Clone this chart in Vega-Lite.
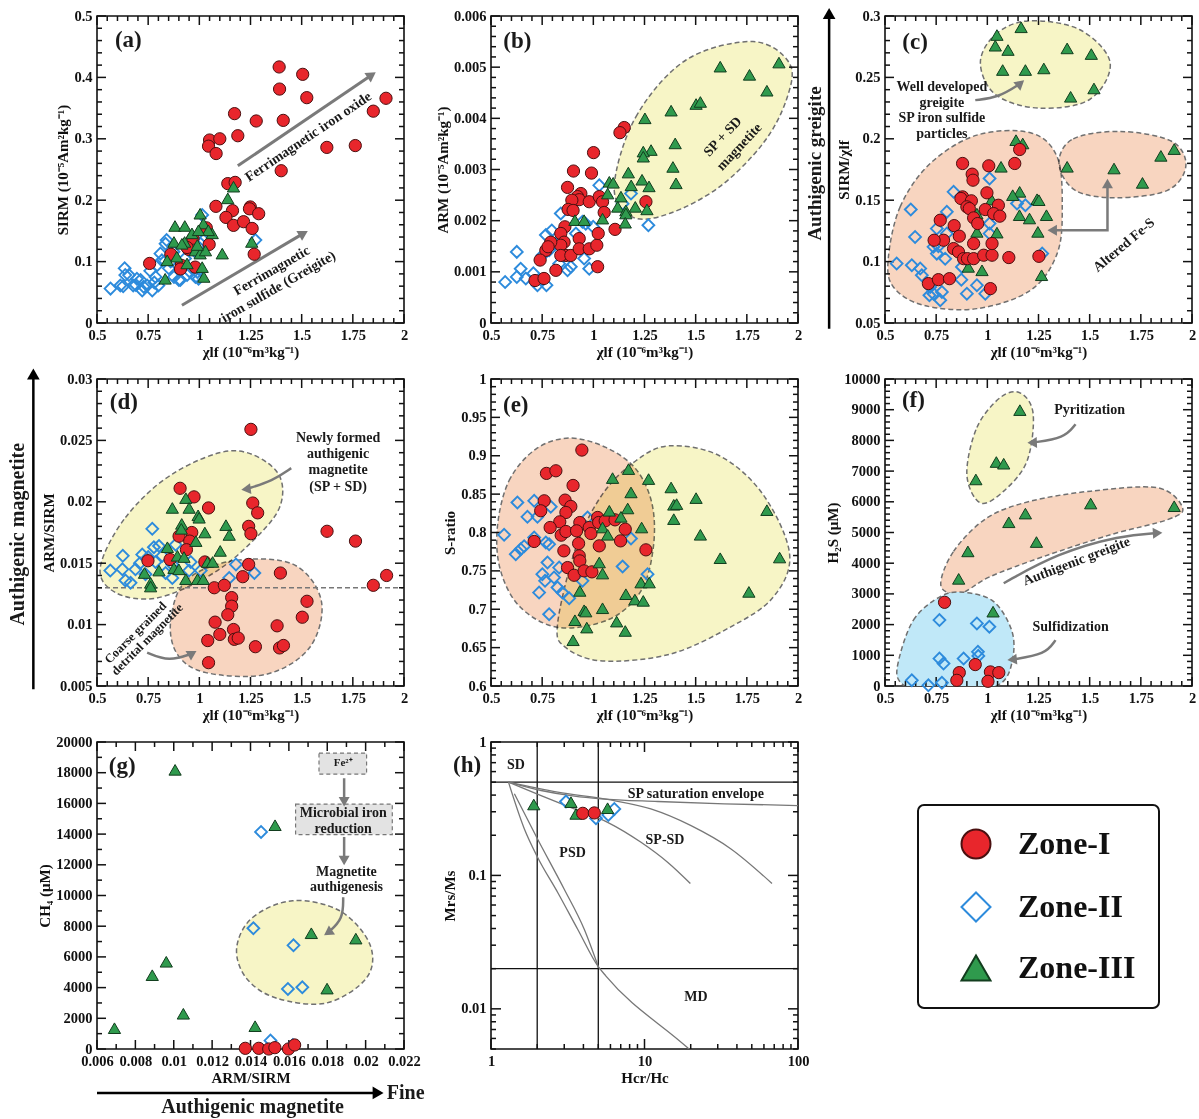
{
"$schema":"https://vega.github.io/schema/vega-lite/v6.json",
"autosize":{"type":"none"},
"padding":{"left":97,"top":16,"right":1102,"bottom":1103},
"background":"white",
"datasets":{
"pts":[
{"p":"a","z":"Zone-I","x":1.39,"y":0.417},{"p":"a","z":"Zone-I","x":1.505,"y":0.405},{"p":"a","z":"Zone-I","x":1.392,"y":0.381},{"p":"a","z":"Zone-I","x":1.525,"y":0.367},{"p":"a","z":"Zone-I","x":1.912,"y":0.366},{"p":"a","z":"Zone-I","x":1.85,"y":0.345},{"p":"a","z":"Zone-I","x":1.172,"y":0.341},{"p":"a","z":"Zone-I","x":1.278,"y":0.329},{"p":"a","z":"Zone-I","x":1.41,"y":0.33},{"p":"a","z":"Zone-I","x":1.05,"y":0.298},{"p":"a","z":"Zone-I","x":1.1,"y":0.3},{"p":"a","z":"Zone-I","x":1.188,"y":0.305},{"p":"a","z":"Zone-I","x":1.045,"y":0.288},{"p":"a","z":"Zone-I","x":1.082,"y":0.276},{"p":"a","z":"Zone-I","x":1.623,"y":0.286},{"p":"a","z":"Zone-I","x":1.762,"y":0.289},{"p":"a","z":"Zone-I","x":1.4,"y":0.248},{"p":"a","z":"Zone-I","x":1.139,"y":0.227},{"p":"a","z":"Zone-I","x":1.175,"y":0.229},{"p":"a","z":"Zone-I","x":1.081,"y":0.19},{"p":"a","z":"Zone-I","x":1.162,"y":0.183},{"p":"a","z":"Zone-I","x":1.13,"y":0.172},{"p":"a","z":"Zone-I","x":1.167,"y":0.159},{"p":"a","z":"Zone-I","x":1.216,"y":0.165},{"p":"a","z":"Zone-I","x":1.249,"y":0.189},{"p":"a","z":"Zone-I","x":1.245,"y":0.186},{"p":"a","z":"Zone-I","x":1.29,"y":0.178},{"p":"a","z":"Zone-I","x":1.258,"y":0.154},{"p":"a","z":"Zone-I","x":1.268,"y":0.112},{"p":"a","z":"Zone-I","x":1.034,"y":0.155},{"p":"a","z":"Zone-I","x":1.048,"y":0.128},{"p":"a","z":"Zone-I","x":0.969,"y":0.138},{"p":"a","z":"Zone-I","x":0.947,"y":0.12},{"p":"a","z":"Zone-I","x":0.94,"y":0.123},{"p":"a","z":"Zone-I","x":0.861,"y":0.112},{"p":"a","z":"Zone-I","x":0.912,"y":0.094},{"p":"a","z":"Zone-I","x":0.908,"y":0.088},{"p":"a","z":"Zone-I","x":0.98,"y":0.091},{"p":"a","z":"Zone-I","x":0.757,"y":0.097},
{"p":"a","z":"Zone-II","x":0.566,"y":0.056},{"p":"a","z":"Zone-II","x":0.628,"y":0.06},{"p":"a","z":"Zone-II","x":0.635,"y":0.089},{"p":"a","z":"Zone-II","x":0.656,"y":0.078},{"p":"a","z":"Zone-II","x":0.677,"y":0.061},{"p":"a","z":"Zone-II","x":0.713,"y":0.07},{"p":"a","z":"Zone-II","x":0.721,"y":0.053},{"p":"a","z":"Zone-II","x":0.745,"y":0.061},{"p":"a","z":"Zone-II","x":0.77,"y":0.053},{"p":"a","z":"Zone-II","x":0.786,"y":0.075},{"p":"a","z":"Zone-II","x":0.8,"y":0.061},{"p":"a","z":"Zone-II","x":0.81,"y":0.113},{"p":"a","z":"Zone-II","x":0.835,"y":0.129},{"p":"a","z":"Zone-II","x":0.794,"y":0.094},{"p":"a","z":"Zone-II","x":0.851,"y":0.089},{"p":"a","z":"Zone-II","x":0.876,"y":0.075},{"p":"a","z":"Zone-II","x":0.9,"y":0.07},{"p":"a","z":"Zone-II","x":0.94,"y":0.078},{"p":"a","z":"Zone-II","x":0.981,"y":0.075},{"p":"a","z":"Zone-II","x":0.99,"y":0.083},{"p":"a","z":"Zone-II","x":1.006,"y":0.129},{"p":"a","z":"Zone-II","x":1.014,"y":0.176},{"p":"a","z":"Zone-II","x":1.274,"y":0.135},{"p":"a","z":"Zone-II","x":0.638,"y":0.078},{"p":"a","z":"Zone-II","x":0.614,"y":0.061},{"p":"a","z":"Zone-II","x":0.695,"y":0.072},{"p":"a","z":"Zone-II","x":0.728,"y":0.059},{"p":"a","z":"Zone-II","x":0.84,"y":0.135},{"p":"a","z":"Zone-II","x":0.817,"y":0.102},{"p":"a","z":"Zone-II","x":0.874,"y":0.116},{"p":"a","z":"Zone-II","x":0.907,"y":0.07},{"p":"a","z":"Zone-II","x":0.996,"y":0.072},{"p":"a","z":"Zone-II","x":0.93,"y":0.105},{"p":"a","z":"Zone-II","x":0.955,"y":0.083},{"p":"a","z":"Zone-II","x":0.98,"y":0.116},{"p":"a","z":"Zone-II","x":1.02,"y":0.135},{"p":"a","z":"Zone-II","x":0.76,"y":0.085},{"p":"a","z":"Zone-II","x":0.78,"y":0.066},{"p":"a","z":"Zone-II","x":0.69,"y":0.062},{"p":"a","z":"Zone-II","x":0.86,"y":0.1},
{"p":"a","z":"Zone-III","x":1.167,"y":0.222},{"p":"a","z":"Zone-III","x":1.139,"y":0.203},{"p":"a","z":"Zone-III","x":0.881,"y":0.158},{"p":"a","z":"Zone-III","x":0.929,"y":0.158},{"p":"a","z":"Zone-III","x":0.876,"y":0.132},{"p":"a","z":"Zone-III","x":0.928,"y":0.132},{"p":"a","z":"Zone-III","x":1.063,"y":0.146},{"p":"a","z":"Zone-III","x":1.112,"y":0.113},{"p":"a","z":"Zone-III","x":1.022,"y":0.075},{"p":"a","z":"Zone-III","x":1.004,"y":0.178},{"p":"a","z":"Zone-III","x":1.02,"y":0.162},{"p":"a","z":"Zone-III","x":0.915,"y":0.129},{"p":"a","z":"Zone-III","x":0.964,"y":0.146},{"p":"a","z":"Zone-III","x":1.044,"y":0.151},{"p":"a","z":"Zone-III","x":0.98,"y":0.118},{"p":"a","z":"Zone-III","x":1.004,"y":0.113},{"p":"a","z":"Zone-III","x":0.833,"y":0.072},{"p":"a","z":"Zone-III","x":0.89,"y":0.108},{"p":"a","z":"Zone-III","x":0.94,"y":0.097},{"p":"a","z":"Zone-III","x":1.03,"y":0.118},{"p":"a","z":"Zone-III","x":1.256,"y":0.132},{"p":"a","z":"Zone-III","x":0.996,"y":0.151},{"p":"a","z":"Zone-III","x":0.843,"y":0.102},{"p":"a","z":"Zone-III","x":1.014,"y":0.091},{"p":"a","z":"Zone-III","x":0.99,"y":0.127},
{"p":"b","z":"Zone-I","x":1.151,"y":0.00382},{"p":"b","z":"Zone-I","x":1.13,"y":0.00372},{"p":"b","z":"Zone-I","x":1.001,"y":0.00333},{"p":"b","z":"Zone-I","x":0.903,"y":0.00297},{"p":"b","z":"Zone-I","x":0.991,"y":0.00293},{"p":"b","z":"Zone-I","x":0.874,"y":0.00265},{"p":"b","z":"Zone-I","x":0.939,"y":0.00253},{"p":"b","z":"Zone-I","x":0.923,"y":0.00247},{"p":"b","z":"Zone-I","x":0.931,"y":0.00241},{"p":"b","z":"Zone-I","x":0.895,"y":0.0024},{"p":"b","z":"Zone-I","x":0.98,"y":0.00237},{"p":"b","z":"Zone-I","x":1.029,"y":0.00247},{"p":"b","z":"Zone-I","x":1.045,"y":0.00237},{"p":"b","z":"Zone-I","x":1.053,"y":0.00216},{"p":"b","z":"Zone-I","x":1.257,"y":0.00237},{"p":"b","z":"Zone-I","x":1.106,"y":0.00183},{"p":"b","z":"Zone-I","x":0.877,"y":0.00222},{"p":"b","z":"Zone-I","x":0.901,"y":0.0022},{"p":"b","z":"Zone-I","x":0.861,"y":0.00188},{"p":"b","z":"Zone-I","x":0.841,"y":0.00175},{"p":"b","z":"Zone-I","x":0.857,"y":0.00158},{"p":"b","z":"Zone-I","x":0.841,"y":0.00152},{"p":"b","z":"Zone-I","x":0.792,"y":0.00158},{"p":"b","z":"Zone-I","x":0.768,"y":0.00142},{"p":"b","z":"Zone-I","x":0.779,"y":0.00149},{"p":"b","z":"Zone-I","x":0.866,"y":0.00132},{"p":"b","z":"Zone-I","x":0.841,"y":0.00132},{"p":"b","z":"Zone-I","x":0.89,"y":0.00132},{"p":"b","z":"Zone-I","x":0.931,"y":0.00165},{"p":"b","z":"Zone-I","x":0.931,"y":0.00145},{"p":"b","z":"Zone-I","x":0.98,"y":0.00145},{"p":"b","z":"Zone-I","x":1.017,"y":0.00152},{"p":"b","z":"Zone-I","x":1.024,"y":0.00175},{"p":"b","z":"Zone-I","x":1.021,"y":0.0011},{"p":"b","z":"Zone-I","x":0.817,"y":0.00103},{"p":"b","z":"Zone-I","x":0.74,"y":0.00123},{"p":"b","z":"Zone-I","x":0.715,"y":0.00083},{"p":"b","z":"Zone-I","x":0.759,"y":0.00087},
{"p":"b","z":"Zone-II","x":0.569,"y":0.0008},{"p":"b","z":"Zone-II","x":0.626,"y":0.00139},{"p":"b","z":"Zone-II","x":0.626,"y":0.0009},{"p":"b","z":"Zone-II","x":0.645,"y":0.00106},{"p":"b","z":"Zone-II","x":0.67,"y":0.00087},{"p":"b","z":"Zone-II","x":0.707,"y":0.00097},{"p":"b","z":"Zone-II","x":0.727,"y":0.00074},{"p":"b","z":"Zone-II","x":0.771,"y":0.00074},{"p":"b","z":"Zone-II","x":0.751,"y":0.00132},{"p":"b","z":"Zone-II","x":0.768,"y":0.00172},{"p":"b","z":"Zone-II","x":0.797,"y":0.00181},{"p":"b","z":"Zone-II","x":0.841,"y":0.00214},{"p":"b","z":"Zone-II","x":0.817,"y":0.00155},{"p":"b","z":"Zone-II","x":0.874,"y":0.00103},{"p":"b","z":"Zone-II","x":0.89,"y":0.0011},{"p":"b","z":"Zone-II","x":0.833,"y":0.00116},{"p":"b","z":"Zone-II","x":0.955,"y":0.00126},{"p":"b","z":"Zone-II","x":0.98,"y":0.00106},{"p":"b","z":"Zone-II","x":0.947,"y":0.00198},{"p":"b","z":"Zone-II","x":0.963,"y":0.00194},{"p":"b","z":"Zone-II","x":0.999,"y":0.00188},{"p":"b","z":"Zone-II","x":1.029,"y":0.00269},{"p":"b","z":"Zone-II","x":1.143,"y":0.00233},{"p":"b","z":"Zone-II","x":1.184,"y":0.00253},{"p":"b","z":"Zone-II","x":1.269,"y":0.00191},{"p":"b","z":"Zone-II","x":0.784,"y":0.00142},{"p":"b","z":"Zone-II","x":0.915,"y":0.00175},
{"p":"b","z":"Zone-III","x":1.907,"y":0.00509},{"p":"b","z":"Zone-III","x":1.62,"y":0.00501},{"p":"b","z":"Zone-III","x":1.763,"y":0.00485},{"p":"b","z":"Zone-III","x":1.848,"y":0.00454},{"p":"b","z":"Zone-III","x":1.502,"y":0.00428},{"p":"b","z":"Zone-III","x":1.523,"y":0.00432},{"p":"b","z":"Zone-III","x":1.38,"y":0.00415},{"p":"b","z":"Zone-III","x":1.252,"y":0.004},{"p":"b","z":"Zone-III","x":1.4,"y":0.00351},{"p":"b","z":"Zone-III","x":1.389,"y":0.00305},{"p":"b","z":"Zone-III","x":1.404,"y":0.00273},{"p":"b","z":"Zone-III","x":1.282,"y":0.00338},{"p":"b","z":"Zone-III","x":1.244,"y":0.00335},{"p":"b","z":"Zone-III","x":1.244,"y":0.00325},{"p":"b","z":"Zone-III","x":1.171,"y":0.00294},{"p":"b","z":"Zone-III","x":1.078,"y":0.00276},{"p":"b","z":"Zone-III","x":1.097,"y":0.00274},{"p":"b","z":"Zone-III","x":1.185,"y":0.00269},{"p":"b","z":"Zone-III","x":1.238,"y":0.0028},{"p":"b","z":"Zone-III","x":1.272,"y":0.00267},{"p":"b","z":"Zone-III","x":1.135,"y":0.00247},{"p":"b","z":"Zone-III","x":1.205,"y":0.00227},{"p":"b","z":"Zone-III","x":1.262,"y":0.00222},{"p":"b","z":"Zone-III","x":1.119,"y":0.00227},{"p":"b","z":"Zone-III","x":1.159,"y":0.0022},{"p":"b","z":"Zone-III","x":1.159,"y":0.00214},{"p":"b","z":"Zone-III","x":1.156,"y":0.00196},{"p":"b","z":"Zone-III","x":1.045,"y":0.00204},{"p":"b","z":"Zone-III","x":0.91,"y":0.00201},{"p":"b","z":"Zone-III","x":0.955,"y":0.00201},{"p":"b","z":"Zone-III","x":1.07,"y":0.00253},
{"p":"c","z":"Zone-III","x":1.165,"y":0.2908},{"p":"c","z":"Zone-III","x":1.047,"y":0.2845},{"p":"c","z":"Zone-III","x":1.039,"y":0.2758},{"p":"c","z":"Zone-III","x":1.101,"y":0.2723},{"p":"c","z":"Zone-III","x":1.39,"y":0.2736},{"p":"c","z":"Zone-III","x":1.508,"y":0.269},{"p":"c","z":"Zone-III","x":1.075,"y":0.256},{"p":"c","z":"Zone-III","x":1.186,"y":0.256},{"p":"c","z":"Zone-III","x":1.276,"y":0.2573},{"p":"c","z":"Zone-III","x":1.521,"y":0.241},{"p":"c","z":"Zone-III","x":1.407,"y":0.2342},{"p":"c","z":"Zone-III","x":1.913,"y":0.1916},{"p":"c","z":"Zone-III","x":1.848,"y":0.1861},{"p":"c","z":"Zone-III","x":1.39,"y":0.1772},{"p":"c","z":"Zone-III","x":1.619,"y":0.1758},{"p":"c","z":"Zone-III","x":1.758,"y":0.1641},{"p":"c","z":"Zone-III","x":1.14,"y":0.1989},{"p":"c","z":"Zone-III","x":1.173,"y":0.1962},{"p":"c","z":"Zone-III","x":1.067,"y":0.1772},{"p":"c","z":"Zone-III","x":1.158,"y":0.1568},{"p":"c","z":"Zone-III","x":1.124,"y":0.1541},{"p":"c","z":"Zone-III","x":1.157,"y":0.1378},{"p":"c","z":"Zone-III","x":1.206,"y":0.1351},{"p":"c","z":"Zone-III","x":1.243,"y":0.1508},{"p":"c","z":"Zone-III","x":1.252,"y":0.15},{"p":"c","z":"Zone-III","x":1.289,"y":0.1378},{"p":"c","z":"Zone-III","x":1.247,"y":0.1242},{"p":"c","z":"Zone-III","x":1.265,"y":0.0889},{"p":"c","z":"Zone-III","x":1.021,"y":0.1505},{"p":"c","z":"Zone-III","x":1.047,"y":0.1236},{"p":"c","z":"Zone-III","x":0.949,"y":0.1242},{"p":"c","z":"Zone-III","x":0.907,"y":0.0957},{"p":"c","z":"Zone-III","x":0.974,"y":0.0929},{"p":"c","z":"Zone-III","x":0.949,"y":0.1391},
{"p":"c","z":"Zone-I","x":1.158,"y":0.1913},{"p":"c","z":"Zone-I","x":1.134,"y":0.1799},{"p":"c","z":"Zone-I","x":1.007,"y":0.178},{"p":"c","z":"Zone-I","x":0.879,"y":0.1799},{"p":"c","z":"Zone-I","x":0.926,"y":0.1712},{"p":"c","z":"Zone-I","x":0.93,"y":0.1663},{"p":"c","z":"Zone-I","x":0.998,"y":0.156},{"p":"c","z":"Zone-I","x":0.879,"y":0.1527},{"p":"c","z":"Zone-I","x":0.871,"y":0.1514},{"p":"c","z":"Zone-I","x":0.922,"y":0.1495},{"p":"c","z":"Zone-I","x":0.9,"y":0.1446},{"p":"c","z":"Zone-I","x":0.912,"y":0.1432},{"p":"c","z":"Zone-I","x":0.99,"y":0.1424},{"p":"c","z":"Zone-I","x":1.054,"y":0.1459},{"p":"c","z":"Zone-I","x":1.031,"y":0.1391},{"p":"c","z":"Zone-I","x":1.061,"y":0.137},{"p":"c","z":"Zone-I","x":0.933,"y":0.1356},{"p":"c","z":"Zone-I","x":0.953,"y":0.131},{"p":"c","z":"Zone-I","x":0.77,"y":0.1337},{"p":"c","z":"Zone-I","x":0.838,"y":0.1293},{"p":"c","z":"Zone-I","x":0.863,"y":0.1207},{"p":"c","z":"Zone-I","x":0.786,"y":0.1174},{"p":"c","z":"Zone-I","x":0.74,"y":0.1174},{"p":"c","z":"Zone-I","x":0.835,"y":0.1106},{"p":"c","z":"Zone-I","x":0.859,"y":0.1079},{"p":"c","z":"Zone-I","x":0.884,"y":0.1024},{"p":"c","z":"Zone-I","x":0.903,"y":0.1024},{"p":"c","z":"Zone-I","x":0.933,"y":0.1147},{"p":"c","z":"Zone-I","x":0.933,"y":0.1024},{"p":"c","z":"Zone-I","x":0.982,"y":0.1052},{"p":"c","z":"Zone-I","x":1.023,"y":0.1052},{"p":"c","z":"Zone-I","x":1.023,"y":0.1147},{"p":"c","z":"Zone-I","x":1.105,"y":0.1033},{"p":"c","z":"Zone-I","x":1.252,"y":0.1043},{"p":"c","z":"Zone-I","x":0.712,"y":0.0821},{"p":"c","z":"Zone-I","x":0.761,"y":0.0853},{"p":"c","z":"Zone-I","x":0.815,"y":0.0861},{"p":"c","z":"Zone-I","x":1.015,"y":0.078},
{"p":"c","z":"Zone-II","x":0.557,"y":0.0984},{"p":"c","z":"Zone-II","x":0.626,"y":0.1424},{"p":"c","z":"Zone-II","x":0.647,"y":0.1201},{"p":"c","z":"Zone-II","x":0.631,"y":0.097},{"p":"c","z":"Zone-II","x":0.672,"y":0.0943},{"p":"c","z":"Zone-II","x":0.68,"y":0.0889},{"p":"c","z":"Zone-II","x":0.721,"y":0.0793},{"p":"c","z":"Zone-II","x":0.737,"y":0.0739},{"p":"c","z":"Zone-II","x":0.77,"y":0.0685},{"p":"c","z":"Zone-II","x":0.717,"y":0.0726},{"p":"c","z":"Zone-II","x":0.778,"y":0.0753},{"p":"c","z":"Zone-II","x":0.753,"y":0.1269},{"p":"c","z":"Zone-II","x":0.802,"y":0.1405},{"p":"c","z":"Zone-II","x":0.835,"y":0.1568},{"p":"c","z":"Zone-II","x":0.753,"y":0.1065},{"p":"c","z":"Zone-II","x":0.794,"y":0.1024},{"p":"c","z":"Zone-II","x":0.761,"y":0.1125},{"p":"c","z":"Zone-II","x":0.873,"y":0.0853},{"p":"c","z":"Zone-II","x":0.9,"y":0.0739},{"p":"c","z":"Zone-II","x":0.949,"y":0.0807},{"p":"c","z":"Zone-II","x":0.99,"y":0.0739},{"p":"c","z":"Zone-II","x":0.876,"y":0.0957},{"p":"c","z":"Zone-II","x":1.011,"y":0.1677},{"p":"c","z":"Zone-II","x":1.011,"y":0.131},{"p":"c","z":"Zone-II","x":1.011,"y":0.1228},{"p":"c","z":"Zone-II","x":1.145,"y":0.1473},{"p":"c","z":"Zone-II","x":1.186,"y":0.1459},{"p":"c","z":"Zone-II","x":1.268,"y":0.1065},{"p":"c","z":"Zone-II","x":0.802,"y":0.1228},{"p":"c","z":"Zone-II","x":0.737,"y":0.112},
{"p":"d","z":"Zone-I","x":1.252,"y":0.0259},{"p":"d","z":"Zone-I","x":0.906,"y":0.0211},{"p":"d","z":"Zone-I","x":0.974,"y":0.0204},{"p":"d","z":"Zone-I","x":1.045,"y":0.0195},{"p":"d","z":"Zone-I","x":1.261,"y":0.0199},{"p":"d","z":"Zone-I","x":1.285,"y":0.0191},{"p":"d","z":"Zone-I","x":1.241,"y":0.018},{"p":"d","z":"Zone-I","x":1.252,"y":0.0174},{"p":"d","z":"Zone-I","x":0.901,"y":0.0172},{"p":"d","z":"Zone-I","x":0.963,"y":0.0175},{"p":"d","z":"Zone-I","x":0.953,"y":0.0168},{"p":"d","z":"Zone-I","x":0.937,"y":0.0161},{"p":"d","z":"Zone-I","x":1.624,"y":0.0176},{"p":"d","z":"Zone-I","x":1.763,"y":0.0168},{"p":"d","z":"Zone-I","x":0.749,"y":0.0152},{"p":"d","z":"Zone-I","x":0.857,"y":0.0153},{"p":"d","z":"Zone-I","x":1.027,"y":0.0151},{"p":"d","z":"Zone-I","x":1.241,"y":0.0149},{"p":"d","z":"Zone-I","x":1.396,"y":0.0142},{"p":"d","z":"Zone-I","x":1.915,"y":0.014},{"p":"d","z":"Zone-I","x":1.85,"y":0.0132},{"p":"d","z":"Zone-I","x":1.212,"y":0.0139},{"p":"d","z":"Zone-I","x":1.073,"y":0.013},{"p":"d","z":"Zone-I","x":1.122,"y":0.0132},{"p":"d","z":"Zone-I","x":1.158,"y":0.0122},{"p":"d","z":"Zone-I","x":1.158,"y":0.0115},{"p":"d","z":"Zone-I","x":1.139,"y":0.0108},{"p":"d","z":"Zone-I","x":1.526,"y":0.0119},{"p":"d","z":"Zone-I","x":1.503,"y":0.0106},{"p":"d","z":"Zone-I","x":1.077,"y":0.0102},{"p":"d","z":"Zone-I","x":1.1,"y":0.0092},{"p":"d","z":"Zone-I","x":1.167,"y":0.0096},{"p":"d","z":"Zone-I","x":1.171,"y":0.0088},{"p":"d","z":"Zone-I","x":1.19,"y":0.0089},{"p":"d","z":"Zone-I","x":1.041,"y":0.0087},{"p":"d","z":"Zone-I","x":1.274,"y":0.0082},{"p":"d","z":"Zone-I","x":1.38,"y":0.0099},{"p":"d","z":"Zone-I","x":1.392,"y":0.0081},{"p":"d","z":"Zone-I","x":1.411,"y":0.0083},{"p":"d","z":"Zone-I","x":1.045,"y":0.0069},
{"p":"d","z":"Zone-III","x":0.868,"y":0.0195},{"p":"d","z":"Zone-III","x":0.934,"y":0.0203},{"p":"d","z":"Zone-III","x":0.95,"y":0.0195},{"p":"d","z":"Zone-III","x":0.994,"y":0.0189},{"p":"d","z":"Zone-III","x":0.999,"y":0.0187},{"p":"d","z":"Zone-III","x":0.914,"y":0.0182},{"p":"d","z":"Zone-III","x":0.912,"y":0.0178},{"p":"d","z":"Zone-III","x":1.027,"y":0.0175},{"p":"d","z":"Zone-III","x":1.13,"y":0.0181},{"p":"d","z":"Zone-III","x":1.146,"y":0.0173},{"p":"d","z":"Zone-III","x":1.102,"y":0.016},{"p":"d","z":"Zone-III","x":0.983,"y":0.0168},{"p":"d","z":"Zone-III","x":0.844,"y":0.0163},{"p":"d","z":"Zone-III","x":0.893,"y":0.0156},{"p":"d","z":"Zone-III","x":0.925,"y":0.0155},{"p":"d","z":"Zone-III","x":1.04,"y":0.0151},{"p":"d","z":"Zone-III","x":1.065,"y":0.0151},{"p":"d","z":"Zone-III","x":0.876,"y":0.0146},{"p":"d","z":"Zone-III","x":0.9,"y":0.0145},{"p":"d","z":"Zone-III","x":0.803,"y":0.0144},{"p":"d","z":"Zone-III","x":0.732,"y":0.0142},{"p":"d","z":"Zone-III","x":0.762,"y":0.0134},{"p":"d","z":"Zone-III","x":0.762,"y":0.0131},{"p":"d","z":"Zone-III","x":0.934,"y":0.0137},{"p":"d","z":"Zone-III","x":0.991,"y":0.0137},{"p":"d","z":"Zone-III","x":1.019,"y":0.0137},
{"p":"d","z":"Zone-II","x":0.565,"y":0.0144},{"p":"d","z":"Zone-II","x":0.626,"y":0.0156},{"p":"d","z":"Zone-II","x":0.624,"y":0.0145},{"p":"d","z":"Zone-II","x":0.639,"y":0.0136},{"p":"d","z":"Zone-II","x":0.664,"y":0.0134},{"p":"d","z":"Zone-II","x":0.688,"y":0.0145},{"p":"d","z":"Zone-II","x":0.721,"y":0.0157},{"p":"d","z":"Zone-II","x":0.77,"y":0.0178},{"p":"d","z":"Zone-II","x":0.737,"y":0.0141},{"p":"d","z":"Zone-II","x":0.778,"y":0.0163},{"p":"d","z":"Zone-II","x":0.803,"y":0.0164},{"p":"d","z":"Zone-II","x":0.819,"y":0.0156},{"p":"d","z":"Zone-II","x":0.786,"y":0.0151},{"p":"d","z":"Zone-II","x":0.868,"y":0.0149},{"p":"d","z":"Zone-II","x":0.868,"y":0.0138},{"p":"d","z":"Zone-II","x":0.884,"y":0.0165},{"p":"d","z":"Zone-II","x":0.95,"y":0.0144},{"p":"d","z":"Zone-II","x":1.007,"y":0.0144},{"p":"d","z":"Zone-II","x":0.958,"y":0.0151},{"p":"d","z":"Zone-II","x":1.146,"y":0.0138},{"p":"d","z":"Zone-II","x":1.179,"y":0.0149},{"p":"d","z":"Zone-II","x":1.269,"y":0.0142},{"p":"d","z":"Zone-II","x":0.71,"y":0.015},{"p":"d","z":"Zone-II","x":0.75,"y":0.0155},{"p":"d","z":"Zone-II","x":0.835,"y":0.0142},
{"p":"e","z":"Zone-I","x":0.944,"y":0.9074},{"p":"e","z":"Zone-I","x":0.771,"y":0.877},{"p":"e","z":"Zone-I","x":0.817,"y":0.8804},{"p":"e","z":"Zone-I","x":0.901,"y":0.8613},{"p":"e","z":"Zone-I","x":0.76,"y":0.8413},{"p":"e","z":"Zone-I","x":0.743,"y":0.8283},{"p":"e","z":"Zone-I","x":0.862,"y":0.8422},{"p":"e","z":"Zone-I","x":0.89,"y":0.8339},{"p":"e","z":"Zone-I","x":0.866,"y":0.8261},{"p":"e","z":"Zone-I","x":0.836,"y":0.8139},{"p":"e","z":"Zone-I","x":0.789,"y":0.8065},{"p":"e","z":"Zone-I","x":0.934,"y":0.813},{"p":"e","z":"Zone-I","x":0.843,"y":0.7965},{"p":"e","z":"Zone-I","x":0.866,"y":0.8013},{"p":"e","z":"Zone-I","x":0.918,"y":0.8022},{"p":"e","z":"Zone-I","x":0.928,"y":0.7857},{"p":"e","z":"Zone-I","x":0.711,"y":0.7883},{"p":"e","z":"Zone-I","x":0.98,"y":0.8065},{"p":"e","z":"Zone-I","x":0.988,"y":0.7987},{"p":"e","z":"Zone-I","x":1.021,"y":0.8196},{"p":"e","z":"Zone-I","x":1.026,"y":0.813},{"p":"e","z":"Zone-I","x":1.058,"y":0.8152},{"p":"e","z":"Zone-I","x":1.106,"y":0.8165},{"p":"e","z":"Zone-I","x":1.029,"y":0.7826},{"p":"e","z":"Zone-I","x":1.156,"y":0.8043},{"p":"e","z":"Zone-I","x":1.133,"y":0.7891},{"p":"e","z":"Zone-I","x":1.257,"y":0.7774},{"p":"e","z":"Zone-I","x":0.856,"y":0.7761},{"p":"e","z":"Zone-I","x":0.931,"y":0.7696},{"p":"e","z":"Zone-I","x":0.934,"y":0.763},{"p":"e","z":"Zone-I","x":0.874,"y":0.7543},{"p":"e","z":"Zone-I","x":0.906,"y":0.7443},{"p":"e","z":"Zone-I","x":0.955,"y":0.75},{"p":"e","z":"Zone-I","x":0.993,"y":0.7487},
{"p":"e","z":"Zone-III","x":1.172,"y":0.8826},{"p":"e","z":"Zone-III","x":1.094,"y":0.8709},{"p":"e","z":"Zone-III","x":1.27,"y":0.8696},{"p":"e","z":"Zone-III","x":1.184,"y":0.8522},{"p":"e","z":"Zone-III","x":1.38,"y":0.8587},{"p":"e","z":"Zone-III","x":1.502,"y":0.8448},{"p":"e","z":"Zone-III","x":1.393,"y":0.8361},{"p":"e","z":"Zone-III","x":1.407,"y":0.837},{"p":"e","z":"Zone-III","x":1.393,"y":0.8174},{"p":"e","z":"Zone-III","x":1.168,"y":0.8313},{"p":"e","z":"Zone-III","x":1.078,"y":0.8283},{"p":"e","z":"Zone-III","x":1.135,"y":0.8204},{"p":"e","z":"Zone-III","x":1.045,"y":0.8065},{"p":"e","z":"Zone-III","x":1.07,"y":0.797},{"p":"e","z":"Zone-III","x":1.236,"y":0.8065},{"p":"e","z":"Zone-III","x":1.523,"y":0.797},{"p":"e","z":"Zone-III","x":1.848,"y":0.8291},{"p":"e","z":"Zone-III","x":1.62,"y":0.7665},{"p":"e","z":"Zone-III","x":1.91,"y":0.7674},{"p":"e","z":"Zone-III","x":1.76,"y":0.7226},{"p":"e","z":"Zone-III","x":1.029,"y":0.7609},{"p":"e","z":"Zone-III","x":1.045,"y":0.7465},{"p":"e","z":"Zone-III","x":1.233,"y":0.7348},{"p":"e","z":"Zone-III","x":1.273,"y":0.7348},{"p":"e","z":"Zone-III","x":0.934,"y":0.7239},{"p":"e","z":"Zone-III","x":1.159,"y":0.7196},{"p":"e","z":"Zone-III","x":1.203,"y":0.7126},{"p":"e","z":"Zone-III","x":1.244,"y":0.7109},{"p":"e","z":"Zone-III","x":1.045,"y":0.7013},{"p":"e","z":"Zone-III","x":0.955,"y":0.6987},{"p":"e","z":"Zone-III","x":0.963,"y":0.697},{"p":"e","z":"Zone-III","x":0.91,"y":0.6857},{"p":"e","z":"Zone-III","x":1.114,"y":0.6839},{"p":"e","z":"Zone-III","x":1.156,"y":0.6717},{"p":"e","z":"Zone-III","x":0.968,"y":0.6761},{"p":"e","z":"Zone-III","x":0.901,"y":0.6596},
{"p":"e","z":"Zone-II","x":0.564,"y":0.797},{"p":"e","z":"Zone-II","x":0.629,"y":0.8391},{"p":"e","z":"Zone-II","x":0.678,"y":0.8204},{"p":"e","z":"Zone-II","x":0.711,"y":0.8413},{"p":"e","z":"Zone-II","x":0.727,"y":0.8204},{"p":"e","z":"Zone-II","x":0.792,"y":0.8335},{"p":"e","z":"Zone-II","x":0.621,"y":0.7717},{"p":"e","z":"Zone-II","x":0.645,"y":0.7783},{"p":"e","z":"Zone-II","x":0.662,"y":0.7822},{"p":"e","z":"Zone-II","x":0.768,"y":0.787},{"p":"e","z":"Zone-II","x":0.784,"y":0.7848},{"p":"e","z":"Zone-II","x":0.776,"y":0.7609},{"p":"e","z":"Zone-II","x":0.751,"y":0.7457},{"p":"e","z":"Zone-II","x":0.764,"y":0.737},{"p":"e","z":"Zone-II","x":0.735,"y":0.7217},{"p":"e","z":"Zone-II","x":0.784,"y":0.6935},{"p":"e","z":"Zone-II","x":0.808,"y":0.7413},{"p":"e","z":"Zone-II","x":0.825,"y":0.7283},{"p":"e","z":"Zone-II","x":0.849,"y":0.7217},{"p":"e","z":"Zone-II","x":0.882,"y":0.7143},{"p":"e","z":"Zone-II","x":0.947,"y":0.737},{"p":"e","z":"Zone-II","x":0.972,"y":0.8196},{"p":"e","z":"Zone-II","x":1.143,"y":0.7557},{"p":"e","z":"Zone-II","x":1.184,"y":0.7922},{"p":"e","z":"Zone-II","x":1.265,"y":0.7457},{"p":"e","z":"Zone-II","x":0.833,"y":0.7543},{"p":"e","z":"Zone-II","x":0.711,"y":0.7935},
{"p":"f","z":"Zone-III","x":1.159,"y":8986},{"p":"f","z":"Zone-III","x":0.944,"y":6728},{"p":"f","z":"Zone-III","x":1.044,"y":7296},{"p":"f","z":"Zone-III","x":1.08,"y":7241},{"p":"f","z":"Zone-III","x":1.505,"y":5943},{"p":"f","z":"Zone-III","x":1.913,"y":5856},{"p":"f","z":"Zone-III","x":1.186,"y":5616},{"p":"f","z":"Zone-III","x":1.105,"y":5333},{"p":"f","z":"Zone-III","x":1.24,"y":4689},{"p":"f","z":"Zone-III","x":0.905,"y":4384},{"p":"f","z":"Zone-III","x":0.86,"y":3490},{"p":"f","z":"Zone-III","x":1.028,"y":2421},
{"p":"f","z":"Zone-I","x":0.791,"y":2726},{"p":"f","z":"Zone-I","x":0.941,"y":698},{"p":"f","z":"Zone-I","x":0.863,"y":436},{"p":"f","z":"Zone-I","x":0.851,"y":185},{"p":"f","z":"Zone-I","x":1.015,"y":458},{"p":"f","z":"Zone-I","x":1.056,"y":436},{"p":"f","z":"Zone-I","x":1.003,"y":153},
{"p":"f","z":"Zone-II","x":0.766,"y":2148},{"p":"f","z":"Zone-II","x":0.949,"y":2039},{"p":"f","z":"Zone-II","x":1.01,"y":1930},{"p":"f","z":"Zone-II","x":0.766,"y":894},{"p":"f","z":"Zone-II","x":0.786,"y":731},{"p":"f","z":"Zone-II","x":0.884,"y":894},{"p":"f","z":"Zone-II","x":0.954,"y":1112},{"p":"f","z":"Zone-II","x":0.956,"y":981},{"p":"f","z":"Zone-II","x":0.778,"y":109},{"p":"f","z":"Zone-II","x":0.631,"y":185},{"p":"f","z":"Zone-II","x":0.712,"y":22},
{"p":"g","z":"Zone-III","x":0.01007,"y":18186},{"p":"g","z":"Zone-III","x":0.00691,"y":1355},{"p":"g","z":"Zone-III","x":0.00888,"y":4809},{"p":"g","z":"Zone-III","x":0.00961,"y":5683},{"p":"g","z":"Zone-III","x":0.0105,"y":2295},{"p":"g","z":"Zone-III","x":0.01528,"y":14579},{"p":"g","z":"Zone-III","x":0.01424,"y":1486},{"p":"g","z":"Zone-III","x":0.01717,"y":7541},{"p":"g","z":"Zone-III","x":0.01949,"y":7191},{"p":"g","z":"Zone-III","x":0.01799,"y":3934},
{"p":"g","z":"Zone-II","x":0.01455,"y":14142},{"p":"g","z":"Zone-II","x":0.01415,"y":7869},{"p":"g","z":"Zone-II","x":0.01624,"y":6754},{"p":"g","z":"Zone-II","x":0.01595,"y":3913},{"p":"g","z":"Zone-II","x":0.0167,"y":4022},{"p":"g","z":"Zone-II","x":0.01504,"y":546},{"p":"g","z":"Zone-II","x":0.01621,"y":262},
{"p":"g","z":"Zone-I","x":0.01373,"y":44},{"p":"g","z":"Zone-I","x":0.01443,"y":44},{"p":"g","z":"Zone-I","x":0.01495,"y":0},{"p":"g","z":"Zone-I","x":0.01527,"y":87},{"p":"g","z":"Zone-I","x":0.01598,"y":0},{"p":"g","z":"Zone-I","x":0.0163,"y":262},
{"p":"h","z":"Zone-III","x":1.9,"y":0.34},{"p":"h","z":"Zone-III","x":3.32,"y":0.354},{"p":"h","z":"Zone-III","x":3.58,"y":0.289},{"p":"h","z":"Zone-III","x":5.75,"y":0.319},
{"p":"h","z":"Zone-II","x":3.08,"y":0.358},{"p":"h","z":"Zone-II","x":6.36,"y":0.315},{"p":"h","z":"Zone-II","x":5.81,"y":0.284},{"p":"h","z":"Zone-II","x":4.83,"y":0.268},
{"p":"h","z":"Zone-I","x":3.96,"y":0.292},{"p":"h","z":"Zone-I","x":4.71,"y":0.294}
],
"tk":[
{"p":"ax","x":0.5,"y":0,"lo":0,"hi":0.5,"m":1},{"p":"ax","x":0.55,"y":0,"lo":0,"hi":0.5,"m":0},{"p":"ax","x":0.6,"y":0,"lo":0,"hi":0.5,"m":0},{"p":"ax","x":0.65,"y":0,"lo":0,"hi":0.5,"m":0},{"p":"ax","x":0.7,"y":0,"lo":0,"hi":0.5,"m":0},{"p":"ax","x":0.75,"y":0,"lo":0,"hi":0.5,"m":1},{"p":"ax","x":0.8,"y":0,"lo":0,"hi":0.5,"m":0},{"p":"ax","x":0.85,"y":0,"lo":0,"hi":0.5,"m":0},{"p":"ax","x":0.9,"y":0,"lo":0,"hi":0.5,"m":0},{"p":"ax","x":0.95,"y":0,"lo":0,"hi":0.5,"m":0},{"p":"ax","x":1,"y":0,"lo":0,"hi":0.5,"m":1},{"p":"ax","x":1.05,"y":0,"lo":0,"hi":0.5,"m":0},{"p":"ax","x":1.1,"y":0,"lo":0,"hi":0.5,"m":0},{"p":"ax","x":1.15,"y":0,"lo":0,"hi":0.5,"m":0},{"p":"ax","x":1.2,"y":0,"lo":0,"hi":0.5,"m":0},{"p":"ax","x":1.25,"y":0,"lo":0,"hi":0.5,"m":1},{"p":"ax","x":1.3,"y":0,"lo":0,"hi":0.5,"m":0},{"p":"ax","x":1.35,"y":0,"lo":0,"hi":0.5,"m":0},{"p":"ax","x":1.4,"y":0,"lo":0,"hi":0.5,"m":0},{"p":"ax","x":1.45,"y":0,"lo":0,"hi":0.5,"m":0},{"p":"ax","x":1.5,"y":0,"lo":0,"hi":0.5,"m":1},{"p":"ax","x":1.55,"y":0,"lo":0,"hi":0.5,"m":0},{"p":"ax","x":1.6,"y":0,"lo":0,"hi":0.5,"m":0},{"p":"ax","x":1.65,"y":0,"lo":0,"hi":0.5,"m":0},{"p":"ax","x":1.7,"y":0,"lo":0,"hi":0.5,"m":0},{"p":"ax","x":1.75,"y":0,"lo":0,"hi":0.5,"m":1},{"p":"ax","x":1.8,"y":0,"lo":0,"hi":0.5,"m":0},{"p":"ax","x":1.85,"y":0,"lo":0,"hi":0.5,"m":0},{"p":"ax","x":1.9,"y":0,"lo":0,"hi":0.5,"m":0},{"p":"ax","x":1.95,"y":0,"lo":0,"hi":0.5,"m":0},{"p":"ax","x":2,"y":0,"lo":0,"hi":0.5,"m":1},
{"p":"bx","x":0.5,"y":0,"lo":0,"hi":0.006,"m":1},{"p":"bx","x":0.55,"y":0,"lo":0,"hi":0.006,"m":0},{"p":"bx","x":0.6,"y":0,"lo":0,"hi":0.006,"m":0},{"p":"bx","x":0.65,"y":0,"lo":0,"hi":0.006,"m":0},{"p":"bx","x":0.7,"y":0,"lo":0,"hi":0.006,"m":0},{"p":"bx","x":0.75,"y":0,"lo":0,"hi":0.006,"m":1},{"p":"bx","x":0.8,"y":0,"lo":0,"hi":0.006,"m":0},{"p":"bx","x":0.85,"y":0,"lo":0,"hi":0.006,"m":0},{"p":"bx","x":0.9,"y":0,"lo":0,"hi":0.006,"m":0},{"p":"bx","x":0.95,"y":0,"lo":0,"hi":0.006,"m":0},{"p":"bx","x":1,"y":0,"lo":0,"hi":0.006,"m":1},{"p":"bx","x":1.05,"y":0,"lo":0,"hi":0.006,"m":0},{"p":"bx","x":1.1,"y":0,"lo":0,"hi":0.006,"m":0},{"p":"bx","x":1.15,"y":0,"lo":0,"hi":0.006,"m":0},{"p":"bx","x":1.2,"y":0,"lo":0,"hi":0.006,"m":0},{"p":"bx","x":1.25,"y":0,"lo":0,"hi":0.006,"m":1},{"p":"bx","x":1.3,"y":0,"lo":0,"hi":0.006,"m":0},{"p":"bx","x":1.35,"y":0,"lo":0,"hi":0.006,"m":0},{"p":"bx","x":1.4,"y":0,"lo":0,"hi":0.006,"m":0},{"p":"bx","x":1.45,"y":0,"lo":0,"hi":0.006,"m":0},{"p":"bx","x":1.5,"y":0,"lo":0,"hi":0.006,"m":1},{"p":"bx","x":1.55,"y":0,"lo":0,"hi":0.006,"m":0},{"p":"bx","x":1.6,"y":0,"lo":0,"hi":0.006,"m":0},{"p":"bx","x":1.65,"y":0,"lo":0,"hi":0.006,"m":0},{"p":"bx","x":1.7,"y":0,"lo":0,"hi":0.006,"m":0},{"p":"bx","x":1.75,"y":0,"lo":0,"hi":0.006,"m":1},{"p":"bx","x":1.8,"y":0,"lo":0,"hi":0.006,"m":0},{"p":"bx","x":1.85,"y":0,"lo":0,"hi":0.006,"m":0},{"p":"bx","x":1.9,"y":0,"lo":0,"hi":0.006,"m":0},{"p":"bx","x":1.95,"y":0,"lo":0,"hi":0.006,"m":0},{"p":"bx","x":2,"y":0,"lo":0,"hi":0.006,"m":1},
{"p":"cx","x":0.5,"y":0.05,"lo":0.05,"hi":0.3,"m":1},{"p":"cx","x":0.55,"y":0.05,"lo":0.05,"hi":0.3,"m":0},{"p":"cx","x":0.6,"y":0.05,"lo":0.05,"hi":0.3,"m":0},{"p":"cx","x":0.65,"y":0.05,"lo":0.05,"hi":0.3,"m":0},{"p":"cx","x":0.7,"y":0.05,"lo":0.05,"hi":0.3,"m":0},{"p":"cx","x":0.75,"y":0.05,"lo":0.05,"hi":0.3,"m":1},{"p":"cx","x":0.8,"y":0.05,"lo":0.05,"hi":0.3,"m":0},{"p":"cx","x":0.85,"y":0.05,"lo":0.05,"hi":0.3,"m":0},{"p":"cx","x":0.9,"y":0.05,"lo":0.05,"hi":0.3,"m":0},{"p":"cx","x":0.95,"y":0.05,"lo":0.05,"hi":0.3,"m":0},{"p":"cx","x":1,"y":0.05,"lo":0.05,"hi":0.3,"m":1},{"p":"cx","x":1.05,"y":0.05,"lo":0.05,"hi":0.3,"m":0},{"p":"cx","x":1.1,"y":0.05,"lo":0.05,"hi":0.3,"m":0},{"p":"cx","x":1.15,"y":0.05,"lo":0.05,"hi":0.3,"m":0},{"p":"cx","x":1.2,"y":0.05,"lo":0.05,"hi":0.3,"m":0},{"p":"cx","x":1.25,"y":0.05,"lo":0.05,"hi":0.3,"m":1},{"p":"cx","x":1.3,"y":0.05,"lo":0.05,"hi":0.3,"m":0},{"p":"cx","x":1.35,"y":0.05,"lo":0.05,"hi":0.3,"m":0},{"p":"cx","x":1.4,"y":0.05,"lo":0.05,"hi":0.3,"m":0},{"p":"cx","x":1.45,"y":0.05,"lo":0.05,"hi":0.3,"m":0},{"p":"cx","x":1.5,"y":0.05,"lo":0.05,"hi":0.3,"m":1},{"p":"cx","x":1.55,"y":0.05,"lo":0.05,"hi":0.3,"m":0},{"p":"cx","x":1.6,"y":0.05,"lo":0.05,"hi":0.3,"m":0},{"p":"cx","x":1.65,"y":0.05,"lo":0.05,"hi":0.3,"m":0},{"p":"cx","x":1.7,"y":0.05,"lo":0.05,"hi":0.3,"m":0},{"p":"cx","x":1.75,"y":0.05,"lo":0.05,"hi":0.3,"m":1},{"p":"cx","x":1.8,"y":0.05,"lo":0.05,"hi":0.3,"m":0},{"p":"cx","x":1.85,"y":0.05,"lo":0.05,"hi":0.3,"m":0},{"p":"cx","x":1.9,"y":0.05,"lo":0.05,"hi":0.3,"m":0},{"p":"cx","x":1.95,"y":0.05,"lo":0.05,"hi":0.3,"m":0},{"p":"cx","x":2,"y":0.05,"lo":0.05,"hi":0.3,"m":1},
{"p":"dx","x":0.5,"y":0.005,"lo":0.005,"hi":0.03,"m":1},{"p":"dx","x":0.55,"y":0.005,"lo":0.005,"hi":0.03,"m":0},{"p":"dx","x":0.6,"y":0.005,"lo":0.005,"hi":0.03,"m":0},{"p":"dx","x":0.65,"y":0.005,"lo":0.005,"hi":0.03,"m":0},{"p":"dx","x":0.7,"y":0.005,"lo":0.005,"hi":0.03,"m":0},{"p":"dx","x":0.75,"y":0.005,"lo":0.005,"hi":0.03,"m":1},{"p":"dx","x":0.8,"y":0.005,"lo":0.005,"hi":0.03,"m":0},{"p":"dx","x":0.85,"y":0.005,"lo":0.005,"hi":0.03,"m":0},{"p":"dx","x":0.9,"y":0.005,"lo":0.005,"hi":0.03,"m":0},{"p":"dx","x":0.95,"y":0.005,"lo":0.005,"hi":0.03,"m":0},{"p":"dx","x":1,"y":0.005,"lo":0.005,"hi":0.03,"m":1},{"p":"dx","x":1.05,"y":0.005,"lo":0.005,"hi":0.03,"m":0},{"p":"dx","x":1.1,"y":0.005,"lo":0.005,"hi":0.03,"m":0},{"p":"dx","x":1.15,"y":0.005,"lo":0.005,"hi":0.03,"m":0},{"p":"dx","x":1.2,"y":0.005,"lo":0.005,"hi":0.03,"m":0},{"p":"dx","x":1.25,"y":0.005,"lo":0.005,"hi":0.03,"m":1},{"p":"dx","x":1.3,"y":0.005,"lo":0.005,"hi":0.03,"m":0},{"p":"dx","x":1.35,"y":0.005,"lo":0.005,"hi":0.03,"m":0},{"p":"dx","x":1.4,"y":0.005,"lo":0.005,"hi":0.03,"m":0},{"p":"dx","x":1.45,"y":0.005,"lo":0.005,"hi":0.03,"m":0},{"p":"dx","x":1.5,"y":0.005,"lo":0.005,"hi":0.03,"m":1},{"p":"dx","x":1.55,"y":0.005,"lo":0.005,"hi":0.03,"m":0},{"p":"dx","x":1.6,"y":0.005,"lo":0.005,"hi":0.03,"m":0},{"p":"dx","x":1.65,"y":0.005,"lo":0.005,"hi":0.03,"m":0},{"p":"dx","x":1.7,"y":0.005,"lo":0.005,"hi":0.03,"m":0},{"p":"dx","x":1.75,"y":0.005,"lo":0.005,"hi":0.03,"m":1},{"p":"dx","x":1.8,"y":0.005,"lo":0.005,"hi":0.03,"m":0},{"p":"dx","x":1.85,"y":0.005,"lo":0.005,"hi":0.03,"m":0},{"p":"dx","x":1.9,"y":0.005,"lo":0.005,"hi":0.03,"m":0},{"p":"dx","x":1.95,"y":0.005,"lo":0.005,"hi":0.03,"m":0},{"p":"dx","x":2,"y":0.005,"lo":0.005,"hi":0.03,"m":1},
{"p":"ex","x":0.5,"y":0.6,"lo":0.6,"hi":1,"m":1},{"p":"ex","x":0.55,"y":0.6,"lo":0.6,"hi":1,"m":0},{"p":"ex","x":0.6,"y":0.6,"lo":0.6,"hi":1,"m":0},{"p":"ex","x":0.65,"y":0.6,"lo":0.6,"hi":1,"m":0},{"p":"ex","x":0.7,"y":0.6,"lo":0.6,"hi":1,"m":0},{"p":"ex","x":0.75,"y":0.6,"lo":0.6,"hi":1,"m":1},{"p":"ex","x":0.8,"y":0.6,"lo":0.6,"hi":1,"m":0},{"p":"ex","x":0.85,"y":0.6,"lo":0.6,"hi":1,"m":0},{"p":"ex","x":0.9,"y":0.6,"lo":0.6,"hi":1,"m":0},{"p":"ex","x":0.95,"y":0.6,"lo":0.6,"hi":1,"m":0},{"p":"ex","x":1,"y":0.6,"lo":0.6,"hi":1,"m":1},{"p":"ex","x":1.05,"y":0.6,"lo":0.6,"hi":1,"m":0},{"p":"ex","x":1.1,"y":0.6,"lo":0.6,"hi":1,"m":0},{"p":"ex","x":1.15,"y":0.6,"lo":0.6,"hi":1,"m":0},{"p":"ex","x":1.2,"y":0.6,"lo":0.6,"hi":1,"m":0},{"p":"ex","x":1.25,"y":0.6,"lo":0.6,"hi":1,"m":1},{"p":"ex","x":1.3,"y":0.6,"lo":0.6,"hi":1,"m":0},{"p":"ex","x":1.35,"y":0.6,"lo":0.6,"hi":1,"m":0},{"p":"ex","x":1.4,"y":0.6,"lo":0.6,"hi":1,"m":0},{"p":"ex","x":1.45,"y":0.6,"lo":0.6,"hi":1,"m":0},{"p":"ex","x":1.5,"y":0.6,"lo":0.6,"hi":1,"m":1},{"p":"ex","x":1.55,"y":0.6,"lo":0.6,"hi":1,"m":0},{"p":"ex","x":1.6,"y":0.6,"lo":0.6,"hi":1,"m":0},{"p":"ex","x":1.65,"y":0.6,"lo":0.6,"hi":1,"m":0},{"p":"ex","x":1.7,"y":0.6,"lo":0.6,"hi":1,"m":0},{"p":"ex","x":1.75,"y":0.6,"lo":0.6,"hi":1,"m":1},{"p":"ex","x":1.8,"y":0.6,"lo":0.6,"hi":1,"m":0},{"p":"ex","x":1.85,"y":0.6,"lo":0.6,"hi":1,"m":0},{"p":"ex","x":1.9,"y":0.6,"lo":0.6,"hi":1,"m":0},{"p":"ex","x":1.95,"y":0.6,"lo":0.6,"hi":1,"m":0},{"p":"ex","x":2,"y":0.6,"lo":0.6,"hi":1,"m":1},
{"p":"fx","x":0.5,"y":0,"lo":0,"hi":10000,"m":1},{"p":"fx","x":0.55,"y":0,"lo":0,"hi":10000,"m":0},{"p":"fx","x":0.6,"y":0,"lo":0,"hi":10000,"m":0},{"p":"fx","x":0.65,"y":0,"lo":0,"hi":10000,"m":0},{"p":"fx","x":0.7,"y":0,"lo":0,"hi":10000,"m":0},{"p":"fx","x":0.75,"y":0,"lo":0,"hi":10000,"m":1},{"p":"fx","x":0.8,"y":0,"lo":0,"hi":10000,"m":0},{"p":"fx","x":0.85,"y":0,"lo":0,"hi":10000,"m":0},{"p":"fx","x":0.9,"y":0,"lo":0,"hi":10000,"m":0},{"p":"fx","x":0.95,"y":0,"lo":0,"hi":10000,"m":0},{"p":"fx","x":1,"y":0,"lo":0,"hi":10000,"m":1},{"p":"fx","x":1.05,"y":0,"lo":0,"hi":10000,"m":0},{"p":"fx","x":1.1,"y":0,"lo":0,"hi":10000,"m":0},{"p":"fx","x":1.15,"y":0,"lo":0,"hi":10000,"m":0},{"p":"fx","x":1.2,"y":0,"lo":0,"hi":10000,"m":0},{"p":"fx","x":1.25,"y":0,"lo":0,"hi":10000,"m":1},{"p":"fx","x":1.3,"y":0,"lo":0,"hi":10000,"m":0},{"p":"fx","x":1.35,"y":0,"lo":0,"hi":10000,"m":0},{"p":"fx","x":1.4,"y":0,"lo":0,"hi":10000,"m":0},{"p":"fx","x":1.45,"y":0,"lo":0,"hi":10000,"m":0},{"p":"fx","x":1.5,"y":0,"lo":0,"hi":10000,"m":1},{"p":"fx","x":1.55,"y":0,"lo":0,"hi":10000,"m":0},{"p":"fx","x":1.6,"y":0,"lo":0,"hi":10000,"m":0},{"p":"fx","x":1.65,"y":0,"lo":0,"hi":10000,"m":0},{"p":"fx","x":1.7,"y":0,"lo":0,"hi":10000,"m":0},{"p":"fx","x":1.75,"y":0,"lo":0,"hi":10000,"m":1},{"p":"fx","x":1.8,"y":0,"lo":0,"hi":10000,"m":0},{"p":"fx","x":1.85,"y":0,"lo":0,"hi":10000,"m":0},{"p":"fx","x":1.9,"y":0,"lo":0,"hi":10000,"m":0},{"p":"fx","x":1.95,"y":0,"lo":0,"hi":10000,"m":0},{"p":"fx","x":2,"y":0,"lo":0,"hi":10000,"m":1},
{"p":"ay","y":0,"x":0.5,"lo":0.5,"hi":2,"m":1},{"p":"ay","y":0.02,"x":0.5,"lo":0.5,"hi":2,"m":0},{"p":"ay","y":0.04,"x":0.5,"lo":0.5,"hi":2,"m":0},{"p":"ay","y":0.06,"x":0.5,"lo":0.5,"hi":2,"m":0},{"p":"ay","y":0.08,"x":0.5,"lo":0.5,"hi":2,"m":0},{"p":"ay","y":0.1,"x":0.5,"lo":0.5,"hi":2,"m":1},{"p":"ay","y":0.12,"x":0.5,"lo":0.5,"hi":2,"m":0},{"p":"ay","y":0.14,"x":0.5,"lo":0.5,"hi":2,"m":0},{"p":"ay","y":0.16,"x":0.5,"lo":0.5,"hi":2,"m":0},{"p":"ay","y":0.18,"x":0.5,"lo":0.5,"hi":2,"m":0},{"p":"ay","y":0.2,"x":0.5,"lo":0.5,"hi":2,"m":1},{"p":"ay","y":0.22,"x":0.5,"lo":0.5,"hi":2,"m":0},{"p":"ay","y":0.24,"x":0.5,"lo":0.5,"hi":2,"m":0},{"p":"ay","y":0.26,"x":0.5,"lo":0.5,"hi":2,"m":0},{"p":"ay","y":0.28,"x":0.5,"lo":0.5,"hi":2,"m":0},{"p":"ay","y":0.3,"x":0.5,"lo":0.5,"hi":2,"m":1},{"p":"ay","y":0.32,"x":0.5,"lo":0.5,"hi":2,"m":0},{"p":"ay","y":0.34,"x":0.5,"lo":0.5,"hi":2,"m":0},{"p":"ay","y":0.36,"x":0.5,"lo":0.5,"hi":2,"m":0},{"p":"ay","y":0.38,"x":0.5,"lo":0.5,"hi":2,"m":0},{"p":"ay","y":0.4,"x":0.5,"lo":0.5,"hi":2,"m":1},{"p":"ay","y":0.42,"x":0.5,"lo":0.5,"hi":2,"m":0},{"p":"ay","y":0.44,"x":0.5,"lo":0.5,"hi":2,"m":0},{"p":"ay","y":0.46,"x":0.5,"lo":0.5,"hi":2,"m":0},{"p":"ay","y":0.48,"x":0.5,"lo":0.5,"hi":2,"m":0},{"p":"ay","y":0.5,"x":0.5,"lo":0.5,"hi":2,"m":1},
{"p":"by","y":0,"x":0.5,"lo":0.5,"hi":2,"m":1},{"p":"by","y":0.0002,"x":0.5,"lo":0.5,"hi":2,"m":0},{"p":"by","y":0.0004,"x":0.5,"lo":0.5,"hi":2,"m":0},{"p":"by","y":0.0006,"x":0.5,"lo":0.5,"hi":2,"m":0},{"p":"by","y":0.0008,"x":0.5,"lo":0.5,"hi":2,"m":0},{"p":"by","y":0.001,"x":0.5,"lo":0.5,"hi":2,"m":1},{"p":"by","y":0.0012,"x":0.5,"lo":0.5,"hi":2,"m":0},{"p":"by","y":0.0014,"x":0.5,"lo":0.5,"hi":2,"m":0},{"p":"by","y":0.0016,"x":0.5,"lo":0.5,"hi":2,"m":0},{"p":"by","y":0.0018,"x":0.5,"lo":0.5,"hi":2,"m":0},{"p":"by","y":0.002,"x":0.5,"lo":0.5,"hi":2,"m":1},{"p":"by","y":0.0022,"x":0.5,"lo":0.5,"hi":2,"m":0},{"p":"by","y":0.0024,"x":0.5,"lo":0.5,"hi":2,"m":0},{"p":"by","y":0.0026,"x":0.5,"lo":0.5,"hi":2,"m":0},{"p":"by","y":0.0028,"x":0.5,"lo":0.5,"hi":2,"m":0},{"p":"by","y":0.003,"x":0.5,"lo":0.5,"hi":2,"m":1},{"p":"by","y":0.0032,"x":0.5,"lo":0.5,"hi":2,"m":0},{"p":"by","y":0.0034,"x":0.5,"lo":0.5,"hi":2,"m":0},{"p":"by","y":0.0036,"x":0.5,"lo":0.5,"hi":2,"m":0},{"p":"by","y":0.0038,"x":0.5,"lo":0.5,"hi":2,"m":0},{"p":"by","y":0.004,"x":0.5,"lo":0.5,"hi":2,"m":1},{"p":"by","y":0.0042,"x":0.5,"lo":0.5,"hi":2,"m":0},{"p":"by","y":0.0044,"x":0.5,"lo":0.5,"hi":2,"m":0},{"p":"by","y":0.0046,"x":0.5,"lo":0.5,"hi":2,"m":0},{"p":"by","y":0.0048,"x":0.5,"lo":0.5,"hi":2,"m":0},{"p":"by","y":0.005,"x":0.5,"lo":0.5,"hi":2,"m":1},{"p":"by","y":0.0052,"x":0.5,"lo":0.5,"hi":2,"m":0},{"p":"by","y":0.0054,"x":0.5,"lo":0.5,"hi":2,"m":0},{"p":"by","y":0.0056,"x":0.5,"lo":0.5,"hi":2,"m":0},{"p":"by","y":0.0058,"x":0.5,"lo":0.5,"hi":2,"m":0},{"p":"by","y":0.006,"x":0.5,"lo":0.5,"hi":2,"m":1},
{"p":"cy","y":0.05,"x":0.5,"lo":0.5,"hi":2,"m":1},{"p":"cy","y":0.06,"x":0.5,"lo":0.5,"hi":2,"m":0},{"p":"cy","y":0.07,"x":0.5,"lo":0.5,"hi":2,"m":0},{"p":"cy","y":0.08,"x":0.5,"lo":0.5,"hi":2,"m":0},{"p":"cy","y":0.09,"x":0.5,"lo":0.5,"hi":2,"m":0},{"p":"cy","y":0.1,"x":0.5,"lo":0.5,"hi":2,"m":1},{"p":"cy","y":0.11,"x":0.5,"lo":0.5,"hi":2,"m":0},{"p":"cy","y":0.12,"x":0.5,"lo":0.5,"hi":2,"m":0},{"p":"cy","y":0.13,"x":0.5,"lo":0.5,"hi":2,"m":0},{"p":"cy","y":0.14,"x":0.5,"lo":0.5,"hi":2,"m":0},{"p":"cy","y":0.15,"x":0.5,"lo":0.5,"hi":2,"m":1},{"p":"cy","y":0.16,"x":0.5,"lo":0.5,"hi":2,"m":0},{"p":"cy","y":0.17,"x":0.5,"lo":0.5,"hi":2,"m":0},{"p":"cy","y":0.18,"x":0.5,"lo":0.5,"hi":2,"m":0},{"p":"cy","y":0.19,"x":0.5,"lo":0.5,"hi":2,"m":0},{"p":"cy","y":0.2,"x":0.5,"lo":0.5,"hi":2,"m":1},{"p":"cy","y":0.21,"x":0.5,"lo":0.5,"hi":2,"m":0},{"p":"cy","y":0.22,"x":0.5,"lo":0.5,"hi":2,"m":0},{"p":"cy","y":0.23,"x":0.5,"lo":0.5,"hi":2,"m":0},{"p":"cy","y":0.24,"x":0.5,"lo":0.5,"hi":2,"m":0},{"p":"cy","y":0.25,"x":0.5,"lo":0.5,"hi":2,"m":1},{"p":"cy","y":0.26,"x":0.5,"lo":0.5,"hi":2,"m":0},{"p":"cy","y":0.27,"x":0.5,"lo":0.5,"hi":2,"m":0},{"p":"cy","y":0.28,"x":0.5,"lo":0.5,"hi":2,"m":0},{"p":"cy","y":0.29,"x":0.5,"lo":0.5,"hi":2,"m":0},{"p":"cy","y":0.3,"x":0.5,"lo":0.5,"hi":2,"m":1},
{"p":"dy","y":0.005,"x":0.5,"lo":0.5,"hi":2,"m":1},{"p":"dy","y":0.006,"x":0.5,"lo":0.5,"hi":2,"m":0},{"p":"dy","y":0.007,"x":0.5,"lo":0.5,"hi":2,"m":0},{"p":"dy","y":0.008,"x":0.5,"lo":0.5,"hi":2,"m":0},{"p":"dy","y":0.009,"x":0.5,"lo":0.5,"hi":2,"m":0},{"p":"dy","y":0.01,"x":0.5,"lo":0.5,"hi":2,"m":1},{"p":"dy","y":0.011,"x":0.5,"lo":0.5,"hi":2,"m":0},{"p":"dy","y":0.012,"x":0.5,"lo":0.5,"hi":2,"m":0},{"p":"dy","y":0.013,"x":0.5,"lo":0.5,"hi":2,"m":0},{"p":"dy","y":0.014,"x":0.5,"lo":0.5,"hi":2,"m":0},{"p":"dy","y":0.015,"x":0.5,"lo":0.5,"hi":2,"m":1},{"p":"dy","y":0.016,"x":0.5,"lo":0.5,"hi":2,"m":0},{"p":"dy","y":0.017,"x":0.5,"lo":0.5,"hi":2,"m":0},{"p":"dy","y":0.018,"x":0.5,"lo":0.5,"hi":2,"m":0},{"p":"dy","y":0.019,"x":0.5,"lo":0.5,"hi":2,"m":0},{"p":"dy","y":0.02,"x":0.5,"lo":0.5,"hi":2,"m":1},{"p":"dy","y":0.021,"x":0.5,"lo":0.5,"hi":2,"m":0},{"p":"dy","y":0.022,"x":0.5,"lo":0.5,"hi":2,"m":0},{"p":"dy","y":0.023,"x":0.5,"lo":0.5,"hi":2,"m":0},{"p":"dy","y":0.024,"x":0.5,"lo":0.5,"hi":2,"m":0},{"p":"dy","y":0.025,"x":0.5,"lo":0.5,"hi":2,"m":1},{"p":"dy","y":0.026,"x":0.5,"lo":0.5,"hi":2,"m":0},{"p":"dy","y":0.027,"x":0.5,"lo":0.5,"hi":2,"m":0},{"p":"dy","y":0.028,"x":0.5,"lo":0.5,"hi":2,"m":0},{"p":"dy","y":0.029,"x":0.5,"lo":0.5,"hi":2,"m":0},{"p":"dy","y":0.03,"x":0.5,"lo":0.5,"hi":2,"m":1},
{"p":"ey","y":0.6,"x":0.5,"lo":0.5,"hi":2,"m":1},{"p":"ey","y":0.61,"x":0.5,"lo":0.5,"hi":2,"m":0},{"p":"ey","y":0.62,"x":0.5,"lo":0.5,"hi":2,"m":0},{"p":"ey","y":0.63,"x":0.5,"lo":0.5,"hi":2,"m":0},{"p":"ey","y":0.64,"x":0.5,"lo":0.5,"hi":2,"m":0},{"p":"ey","y":0.65,"x":0.5,"lo":0.5,"hi":2,"m":1},{"p":"ey","y":0.66,"x":0.5,"lo":0.5,"hi":2,"m":0},{"p":"ey","y":0.67,"x":0.5,"lo":0.5,"hi":2,"m":0},{"p":"ey","y":0.68,"x":0.5,"lo":0.5,"hi":2,"m":0},{"p":"ey","y":0.69,"x":0.5,"lo":0.5,"hi":2,"m":0},{"p":"ey","y":0.7,"x":0.5,"lo":0.5,"hi":2,"m":1},{"p":"ey","y":0.71,"x":0.5,"lo":0.5,"hi":2,"m":0},{"p":"ey","y":0.72,"x":0.5,"lo":0.5,"hi":2,"m":0},{"p":"ey","y":0.73,"x":0.5,"lo":0.5,"hi":2,"m":0},{"p":"ey","y":0.74,"x":0.5,"lo":0.5,"hi":2,"m":0},{"p":"ey","y":0.75,"x":0.5,"lo":0.5,"hi":2,"m":1},{"p":"ey","y":0.76,"x":0.5,"lo":0.5,"hi":2,"m":0},{"p":"ey","y":0.77,"x":0.5,"lo":0.5,"hi":2,"m":0},{"p":"ey","y":0.78,"x":0.5,"lo":0.5,"hi":2,"m":0},{"p":"ey","y":0.79,"x":0.5,"lo":0.5,"hi":2,"m":0},{"p":"ey","y":0.8,"x":0.5,"lo":0.5,"hi":2,"m":1},{"p":"ey","y":0.81,"x":0.5,"lo":0.5,"hi":2,"m":0},{"p":"ey","y":0.82,"x":0.5,"lo":0.5,"hi":2,"m":0},{"p":"ey","y":0.83,"x":0.5,"lo":0.5,"hi":2,"m":0},{"p":"ey","y":0.84,"x":0.5,"lo":0.5,"hi":2,"m":0},{"p":"ey","y":0.85,"x":0.5,"lo":0.5,"hi":2,"m":1},{"p":"ey","y":0.86,"x":0.5,"lo":0.5,"hi":2,"m":0},{"p":"ey","y":0.87,"x":0.5,"lo":0.5,"hi":2,"m":0},{"p":"ey","y":0.88,"x":0.5,"lo":0.5,"hi":2,"m":0},{"p":"ey","y":0.89,"x":0.5,"lo":0.5,"hi":2,"m":0},{"p":"ey","y":0.9,"x":0.5,"lo":0.5,"hi":2,"m":1},{"p":"ey","y":0.91,"x":0.5,"lo":0.5,"hi":2,"m":0},{"p":"ey","y":0.92,"x":0.5,"lo":0.5,"hi":2,"m":0},{"p":"ey","y":0.93,"x":0.5,"lo":0.5,"hi":2,"m":0},{"p":"ey","y":0.94,"x":0.5,"lo":0.5,"hi":2,"m":0},{"p":"ey","y":0.95,"x":0.5,"lo":0.5,"hi":2,"m":1},{"p":"ey","y":0.96,"x":0.5,"lo":0.5,"hi":2,"m":0},{"p":"ey","y":0.97,"x":0.5,"lo":0.5,"hi":2,"m":0},{"p":"ey","y":0.98,"x":0.5,"lo":0.5,"hi":2,"m":0},{"p":"ey","y":0.99,"x":0.5,"lo":0.5,"hi":2,"m":0},{"p":"ey","y":1,"x":0.5,"lo":0.5,"hi":2,"m":1},
{"p":"fy","y":0,"x":0.5,"lo":0.5,"hi":2,"m":1},{"p":"fy","y":200,"x":0.5,"lo":0.5,"hi":2,"m":0},{"p":"fy","y":400,"x":0.5,"lo":0.5,"hi":2,"m":0},{"p":"fy","y":600,"x":0.5,"lo":0.5,"hi":2,"m":0},{"p":"fy","y":800,"x":0.5,"lo":0.5,"hi":2,"m":0},{"p":"fy","y":1000,"x":0.5,"lo":0.5,"hi":2,"m":1},{"p":"fy","y":1200,"x":0.5,"lo":0.5,"hi":2,"m":0},{"p":"fy","y":1400,"x":0.5,"lo":0.5,"hi":2,"m":0},{"p":"fy","y":1600,"x":0.5,"lo":0.5,"hi":2,"m":0},{"p":"fy","y":1800,"x":0.5,"lo":0.5,"hi":2,"m":0},{"p":"fy","y":2000,"x":0.5,"lo":0.5,"hi":2,"m":1},{"p":"fy","y":2200,"x":0.5,"lo":0.5,"hi":2,"m":0},{"p":"fy","y":2400,"x":0.5,"lo":0.5,"hi":2,"m":0},{"p":"fy","y":2600,"x":0.5,"lo":0.5,"hi":2,"m":0},{"p":"fy","y":2800,"x":0.5,"lo":0.5,"hi":2,"m":0},{"p":"fy","y":3000,"x":0.5,"lo":0.5,"hi":2,"m":1},{"p":"fy","y":3200,"x":0.5,"lo":0.5,"hi":2,"m":0},{"p":"fy","y":3400,"x":0.5,"lo":0.5,"hi":2,"m":0},{"p":"fy","y":3600,"x":0.5,"lo":0.5,"hi":2,"m":0},{"p":"fy","y":3800,"x":0.5,"lo":0.5,"hi":2,"m":0},{"p":"fy","y":4000,"x":0.5,"lo":0.5,"hi":2,"m":1},{"p":"fy","y":4200,"x":0.5,"lo":0.5,"hi":2,"m":0},{"p":"fy","y":4400,"x":0.5,"lo":0.5,"hi":2,"m":0},{"p":"fy","y":4600,"x":0.5,"lo":0.5,"hi":2,"m":0},{"p":"fy","y":4800,"x":0.5,"lo":0.5,"hi":2,"m":0},{"p":"fy","y":5000,"x":0.5,"lo":0.5,"hi":2,"m":1},{"p":"fy","y":5200,"x":0.5,"lo":0.5,"hi":2,"m":0},{"p":"fy","y":5400,"x":0.5,"lo":0.5,"hi":2,"m":0},{"p":"fy","y":5600,"x":0.5,"lo":0.5,"hi":2,"m":0},{"p":"fy","y":5800,"x":0.5,"lo":0.5,"hi":2,"m":0},{"p":"fy","y":6000,"x":0.5,"lo":0.5,"hi":2,"m":1},{"p":"fy","y":6200,"x":0.5,"lo":0.5,"hi":2,"m":0},{"p":"fy","y":6400,"x":0.5,"lo":0.5,"hi":2,"m":0},{"p":"fy","y":6600,"x":0.5,"lo":0.5,"hi":2,"m":0},{"p":"fy","y":6800,"x":0.5,"lo":0.5,"hi":2,"m":0},{"p":"fy","y":7000,"x":0.5,"lo":0.5,"hi":2,"m":1},{"p":"fy","y":7200,"x":0.5,"lo":0.5,"hi":2,"m":0},{"p":"fy","y":7400,"x":0.5,"lo":0.5,"hi":2,"m":0},{"p":"fy","y":7600,"x":0.5,"lo":0.5,"hi":2,"m":0},{"p":"fy","y":7800,"x":0.5,"lo":0.5,"hi":2,"m":0},{"p":"fy","y":8000,"x":0.5,"lo":0.5,"hi":2,"m":1},{"p":"fy","y":8200,"x":0.5,"lo":0.5,"hi":2,"m":0},{"p":"fy","y":8400,"x":0.5,"lo":0.5,"hi":2,"m":0},{"p":"fy","y":8600,"x":0.5,"lo":0.5,"hi":2,"m":0},{"p":"fy","y":8800,"x":0.5,"lo":0.5,"hi":2,"m":0},{"p":"fy","y":9000,"x":0.5,"lo":0.5,"hi":2,"m":1},{"p":"fy","y":9200,"x":0.5,"lo":0.5,"hi":2,"m":0},{"p":"fy","y":9400,"x":0.5,"lo":0.5,"hi":2,"m":0},{"p":"fy","y":9600,"x":0.5,"lo":0.5,"hi":2,"m":0},{"p":"fy","y":9800,"x":0.5,"lo":0.5,"hi":2,"m":0},{"p":"fy","y":10000,"x":0.5,"lo":0.5,"hi":2,"m":1},
{"p":"gx","x":0.006,"y":0,"lo":0,"hi":20000,"m":1},{"p":"gx","x":0.007,"y":0,"lo":0,"hi":20000,"m":0},{"p":"gx","x":0.008,"y":0,"lo":0,"hi":20000,"m":1},{"p":"gx","x":0.009,"y":0,"lo":0,"hi":20000,"m":0},{"p":"gx","x":0.01,"y":0,"lo":0,"hi":20000,"m":1},{"p":"gx","x":0.011,"y":0,"lo":0,"hi":20000,"m":0},{"p":"gx","x":0.012,"y":0,"lo":0,"hi":20000,"m":1},{"p":"gx","x":0.013,"y":0,"lo":0,"hi":20000,"m":0},{"p":"gx","x":0.014,"y":0,"lo":0,"hi":20000,"m":1},{"p":"gx","x":0.015,"y":0,"lo":0,"hi":20000,"m":0},{"p":"gx","x":0.016,"y":0,"lo":0,"hi":20000,"m":1},{"p":"gx","x":0.017,"y":0,"lo":0,"hi":20000,"m":0},{"p":"gx","x":0.018,"y":0,"lo":0,"hi":20000,"m":1},{"p":"gx","x":0.019,"y":0,"lo":0,"hi":20000,"m":0},{"p":"gx","x":0.02,"y":0,"lo":0,"hi":20000,"m":1},{"p":"gx","x":0.021,"y":0,"lo":0,"hi":20000,"m":0},{"p":"gx","x":0.022,"y":0,"lo":0,"hi":20000,"m":1},
{"p":"gy","y":0,"x":0.006,"lo":0.006,"hi":0.022,"m":1},{"p":"gy","y":1000,"x":0.006,"lo":0.006,"hi":0.022,"m":0},{"p":"gy","y":2000,"x":0.006,"lo":0.006,"hi":0.022,"m":1},{"p":"gy","y":3000,"x":0.006,"lo":0.006,"hi":0.022,"m":0},{"p":"gy","y":4000,"x":0.006,"lo":0.006,"hi":0.022,"m":1},{"p":"gy","y":5000,"x":0.006,"lo":0.006,"hi":0.022,"m":0},{"p":"gy","y":6000,"x":0.006,"lo":0.006,"hi":0.022,"m":1},{"p":"gy","y":7000,"x":0.006,"lo":0.006,"hi":0.022,"m":0},{"p":"gy","y":8000,"x":0.006,"lo":0.006,"hi":0.022,"m":1},{"p":"gy","y":9000,"x":0.006,"lo":0.006,"hi":0.022,"m":0},{"p":"gy","y":10000,"x":0.006,"lo":0.006,"hi":0.022,"m":1},{"p":"gy","y":11000,"x":0.006,"lo":0.006,"hi":0.022,"m":0},{"p":"gy","y":12000,"x":0.006,"lo":0.006,"hi":0.022,"m":1},{"p":"gy","y":13000,"x":0.006,"lo":0.006,"hi":0.022,"m":0},{"p":"gy","y":14000,"x":0.006,"lo":0.006,"hi":0.022,"m":1},{"p":"gy","y":15000,"x":0.006,"lo":0.006,"hi":0.022,"m":0},{"p":"gy","y":16000,"x":0.006,"lo":0.006,"hi":0.022,"m":1},{"p":"gy","y":17000,"x":0.006,"lo":0.006,"hi":0.022,"m":0},{"p":"gy","y":18000,"x":0.006,"lo":0.006,"hi":0.022,"m":1},{"p":"gy","y":19000,"x":0.006,"lo":0.006,"hi":0.022,"m":0},{"p":"gy","y":20000,"x":0.006,"lo":0.006,"hi":0.022,"m":1},
{"p":"hx","x":1,"y":0.005,"lo":0.005,"hi":1,"m":1},{"p":"hx","x":2,"y":0.005,"lo":0.005,"hi":1,"m":0},{"p":"hx","x":3,"y":0.005,"lo":0.005,"hi":1,"m":0},{"p":"hx","x":4,"y":0.005,"lo":0.005,"hi":1,"m":0},{"p":"hx","x":5,"y":0.005,"lo":0.005,"hi":1,"m":0},{"p":"hx","x":6,"y":0.005,"lo":0.005,"hi":1,"m":0},{"p":"hx","x":7,"y":0.005,"lo":0.005,"hi":1,"m":0},{"p":"hx","x":8,"y":0.005,"lo":0.005,"hi":1,"m":0},{"p":"hx","x":9,"y":0.005,"lo":0.005,"hi":1,"m":0},{"p":"hx","x":10,"y":0.005,"lo":0.005,"hi":1,"m":1},{"p":"hx","x":20,"y":0.005,"lo":0.005,"hi":1,"m":0},{"p":"hx","x":30,"y":0.005,"lo":0.005,"hi":1,"m":0},{"p":"hx","x":40,"y":0.005,"lo":0.005,"hi":1,"m":0},{"p":"hx","x":50,"y":0.005,"lo":0.005,"hi":1,"m":0},{"p":"hx","x":60,"y":0.005,"lo":0.005,"hi":1,"m":0},{"p":"hx","x":70,"y":0.005,"lo":0.005,"hi":1,"m":0},{"p":"hx","x":80,"y":0.005,"lo":0.005,"hi":1,"m":0},{"p":"hx","x":90,"y":0.005,"lo":0.005,"hi":1,"m":0},{"p":"hx","x":100,"y":0.005,"lo":0.005,"hi":1,"m":1},
{"p":"hy","y":0.005,"x":1,"lo":1,"hi":100,"m":0},{"p":"hy","y":0.006,"x":1,"lo":1,"hi":100,"m":0},{"p":"hy","y":0.007,"x":1,"lo":1,"hi":100,"m":0},{"p":"hy","y":0.008,"x":1,"lo":1,"hi":100,"m":0},{"p":"hy","y":0.009,"x":1,"lo":1,"hi":100,"m":0},{"p":"hy","y":0.01,"x":1,"lo":1,"hi":100,"m":1},{"p":"hy","y":0.02,"x":1,"lo":1,"hi":100,"m":0},{"p":"hy","y":0.03,"x":1,"lo":1,"hi":100,"m":0},{"p":"hy","y":0.04,"x":1,"lo":1,"hi":100,"m":0},{"p":"hy","y":0.05,"x":1,"lo":1,"hi":100,"m":0},{"p":"hy","y":0.06,"x":1,"lo":1,"hi":100,"m":0},{"p":"hy","y":0.07,"x":1,"lo":1,"hi":100,"m":0},{"p":"hy","y":0.08,"x":1,"lo":1,"hi":100,"m":0},{"p":"hy","y":0.09,"x":1,"lo":1,"hi":100,"m":0},{"p":"hy","y":0.1,"x":1,"lo":1,"hi":100,"m":1},{"p":"hy","y":0.2,"x":1,"lo":1,"hi":100,"m":0},{"p":"hy","y":0.3,"x":1,"lo":1,"hi":100,"m":0},{"p":"hy","y":0.4,"x":1,"lo":1,"hi":100,"m":0},{"p":"hy","y":0.5,"x":1,"lo":1,"hi":100,"m":0},{"p":"hy","y":0.6,"x":1,"lo":1,"hi":100,"m":0},{"p":"hy","y":0.7,"x":1,"lo":1,"hi":100,"m":0},{"p":"hy","y":0.8,"x":1,"lo":1,"hi":100,"m":0},{"p":"hy","y":0.9,"x":1,"lo":1,"hi":100,"m":0},{"p":"hy","y":1,"x":1,"lo":1,"hi":100,"m":1}
],
"blobs":[
{"b":"b1","i":0,"x":1.102,"y":0.00266},{"b":"b1","i":1,"x":1.208,"y":0.00403},{"b":"b1","i":2,"x":1.453,"y":0.00514},{"b":"b1","i":3,"x":1.78,"y":0.0055},{"b":"b1","i":4,"x":1.959,"y":0.00507},{"b":"b1","i":5,"x":1.943,"y":0.00436},{"b":"b1","i":6,"x":1.829,"y":0.00351},{"b":"b1","i":7,"x":1.616,"y":0.00266},{"b":"b1","i":8,"x":1.372,"y":0.00214},{"b":"b1","i":9,"x":1.192,"y":0.00207},
{"b":"c1","i":0,"x":0.966,"y":0.262},{"b":"c1","i":1,"x":1.04,"y":0.285},{"b":"c1","i":2,"x":1.2,"y":0.296},{"b":"c1","i":3,"x":1.45,"y":0.289},{"b":"c1","i":4,"x":1.6,"y":0.262},{"b":"c1","i":5,"x":1.5,"y":0.232},{"b":"c1","i":6,"x":1.25,"y":0.225},{"b":"c1","i":7,"x":1.04,"y":0.236},
{"b":"c2","i":0,"x":0.516,"y":0.1024},{"b":"c2","i":1,"x":0.574,"y":0.1446},{"b":"c2","i":2,"x":0.721,"y":0.1799},{"b":"c2","i":3,"x":0.949,"y":0.203},{"b":"c2","i":4,"x":1.211,"y":0.2049},{"b":"c2","i":5,"x":1.341,"y":0.1853},{"b":"c2","i":6,"x":1.366,"y":0.1446},{"b":"c2","i":7,"x":1.341,"y":0.1065},{"b":"c2","i":8,"x":1.211,"y":0.0766},{"b":"c2","i":9,"x":0.949,"y":0.0617},{"b":"c2","i":10,"x":0.688,"y":0.0644},{"b":"c2","i":11,"x":0.541,"y":0.0793},
{"b":"c3","i":0,"x":1.35,"y":0.18},{"b":"c3","i":1,"x":1.42,"y":0.2},{"b":"c3","i":2,"x":1.65,"y":0.206},{"b":"c3","i":3,"x":1.9,"y":0.198},{"b":"c3","i":4,"x":1.97,"y":0.178},{"b":"c3","i":5,"x":1.88,"y":0.158},{"b":"c3","i":6,"x":1.63,"y":0.152},{"b":"c3","i":7,"x":1.43,"y":0.158},
{"b":"d1","i":0,"x":0.516,"y":0.01465},{"b":"d1","i":1,"x":0.639,"y":0.01872},{"b":"d1","i":2,"x":0.868,"y":0.02226},{"b":"d1","i":3,"x":1.163,"y":0.02416},{"b":"d1","i":4,"x":1.375,"y":0.02253},{"b":"d1","i":5,"x":1.392,"y":0.01954},{"b":"d1","i":6,"x":1.228,"y":0.01628},{"b":"d1","i":7,"x":1.032,"y":0.01383},{"b":"d1","i":8,"x":0.786,"y":0.01215},{"b":"d1","i":9,"x":0.59,"y":0.01261},
{"b":"d2","i":0,"x":0.86,"y":0.0103},{"b":"d2","i":1,"x":0.934,"y":0.01356},{"b":"d2","i":2,"x":1.163,"y":0.01519},{"b":"d2","i":3,"x":1.457,"y":0.01492},{"b":"d2","i":4,"x":1.596,"y":0.01193},{"b":"d2","i":5,"x":1.539,"y":0.00813},{"b":"d2","i":6,"x":1.326,"y":0.00595},{"b":"d2","i":7,"x":1.032,"y":0.00609},{"b":"d2","i":8,"x":0.893,"y":0.00758},
{"b":"e1","i":0,"x":0.531,"y":0.8065},{"b":"e1","i":1,"x":0.588,"y":0.8674},{"b":"e1","i":2,"x":0.719,"y":0.9087},{"b":"e1","i":3,"x":0.882,"y":0.923},{"b":"e1","i":4,"x":1.061,"y":0.9109},{"b":"e1","i":5,"x":1.208,"y":0.8826},{"b":"e1","i":6,"x":1.287,"y":0.837},{"b":"e1","i":7,"x":1.293,"y":0.7804},{"b":"e1","i":8,"x":1.233,"y":0.7239},{"b":"e1","i":9,"x":1.078,"y":0.687},{"b":"e1","i":10,"x":0.833,"y":0.6761},{"b":"e1","i":11,"x":0.645,"y":0.7022},{"b":"e1","i":12,"x":0.547,"y":0.75},
{"b":"e2","i":0,"x":0.825,"y":0.6804},{"b":"e2","i":1,"x":0.915,"y":0.7804},{"b":"e2","i":2,"x":1.045,"y":0.85},{"b":"e2","i":3,"x":1.208,"y":0.8935},{"b":"e2","i":4,"x":1.372,"y":0.913},{"b":"e2","i":5,"x":1.616,"y":0.9},{"b":"e2","i":6,"x":1.828,"y":0.85},{"b":"e2","i":7,"x":1.959,"y":0.7717},{"b":"e2","i":8,"x":1.877,"y":0.7152},{"b":"e2","i":9,"x":1.665,"y":0.6761},{"b":"e2","i":10,"x":1.372,"y":0.6413},{"b":"e2","i":11,"x":1.045,"y":0.6326},{"b":"e2","i":12,"x":0.866,"y":0.65},
{"b":"f1","i":0,"x":0.9,"y":6892},{"b":"f1","i":1,"x":0.949,"y":8419},{"b":"f1","i":2,"x":1.064,"y":9400},{"b":"f1","i":3,"x":1.162,"y":9542},{"b":"f1","i":4,"x":1.224,"y":8855},{"b":"f1","i":5,"x":1.194,"y":7328},{"b":"f1","i":6,"x":1.08,"y":6347},{"b":"f1","i":7,"x":0.966,"y":5965},
{"b":"f2","i":0,"x":0.773,"y":3272},{"b":"f2","i":1,"x":0.835,"y":4384},{"b":"f2","i":2,"x":0.998,"y":5474},{"b":"f2","i":3,"x":1.211,"y":6020},{"b":"f2","i":4,"x":1.505,"y":6347},{"b":"f2","i":5,"x":1.832,"y":6456},{"b":"f2","i":6,"x":1.954,"y":5802},{"b":"f2","i":7,"x":1.881,"y":5420},{"b":"f2","i":8,"x":1.603,"y":4929},{"b":"f2","i":9,"x":1.276,"y":4220},{"b":"f2","i":10,"x":1.015,"y":3566},{"b":"f2","i":11,"x":0.868,"y":3021},
{"b":"f3","i":0,"x":0.565,"y":785},{"b":"f3","i":1,"x":0.639,"y":2148},{"b":"f3","i":2,"x":0.77,"y":2912},{"b":"f3","i":3,"x":0.884,"y":3053},{"b":"f3","i":4,"x":1.031,"y":2748},{"b":"f3","i":5,"x":1.121,"y":1767},{"b":"f3","i":6,"x":1.121,"y":785},{"b":"f3","i":7,"x":1.064,"y":76},{"b":"f3","i":8,"x":0.9,"y":-196},{"b":"f3","i":9,"x":0.688,"y":-196},{"b":"f3","i":10,"x":0.574,"y":131},
{"b":"g1","i":0,"x":0.01328,"y":6601},{"b":"g1","i":1,"x":0.01411,"y":8568},{"b":"g1","i":2,"x":0.0162,"y":9661},{"b":"g1","i":3,"x":0.01865,"y":9005},{"b":"g1","i":4,"x":0.02022,"y":6820},{"b":"g1","i":5,"x":0.02005,"y":4634},{"b":"g1","i":6,"x":0.01795,"y":2994},{"b":"g1","i":7,"x":0.01533,"y":3322},{"b":"g1","i":8,"x":0.01377,"y":4634}
],
"arrows":[
{"p":"a","a":"a1","i":0,"x":1.188,"y":0.256},{"p":"a","a":"a1","i":1,"x":1.842,"y":0.404},
{"p":"a","a":"a2","i":0,"x":0.915,"y":0.0288},{"p":"a","a":"a2","i":1,"x":1.509,"y":0.146},
{"p":"c","a":"c1","i":0,"x":0.941,"y":0.2315},{"p":"c","a":"c1","i":1,"x":1.056,"y":0.2337},{"p":"c","a":"c1","i":2,"x":1.162,"y":0.2451},
{"p":"d","a":"d1","i":0,"x":1.449,"y":0.02274},{"p":"d","a":"d1","i":1,"x":1.359,"y":0.02171},{"p":"d","a":"d1","i":2,"x":1.228,"y":0.02103},
{"p":"d","a":"d2","i":0,"x":0.745,"y":0.00772},{"p":"d","a":"d2","i":1,"x":0.852,"y":0.00698},{"p":"d","a":"d2","i":2,"x":0.966,"y":0.00766},
{"p":"f","a":"f1","i":0,"x":1.431,"y":8528},{"p":"f","a":"f1","i":1,"x":1.377,"y":8070},{"p":"f","a":"f1","i":2,"x":1.219,"y":7928},
{"p":"f","a":"f2","i":0,"x":1.08,"y":3348},{"p":"f","a":"f2","i":1,"x":1.342,"y":4329},{"p":"f","a":"f2","i":2,"x":1.652,"y":4907},{"p":"f","a":"f2","i":3,"x":1.832,"y":4984},
{"p":"f","a":"f3","i":0,"x":1.333,"y":1494},{"p":"f","a":"f3","i":1,"x":1.284,"y":1025},{"p":"f","a":"f3","i":2,"x":1.121,"y":861},
{"p":"g","a":"g1","i":0,"x":0.01888,"y":17639},{"p":"g","a":"g1","i":1,"x":0.01888,"y":16109},
{"p":"g","a":"g2","i":0,"x":0.01888,"y":13814},{"p":"g","a":"g2","i":1,"x":0.01888,"y":12284},
{"p":"g","a":"g3","i":0,"x":0.01883,"y":9880},{"p":"g","a":"g3","i":1,"x":0.01883,"y":8459},{"p":"g","a":"g3","i":2,"x":0.01804,"y":7585}
],
"notes":[
{"p":"c","x":0.778,"y":0.2424,"t":"Well developed"},{"p":"c","x":0.778,"y":0.2295,"t":"greigite"},{"p":"c","x":0.778,"y":0.217,"t":"SP iron sulfide"},{"p":"c","x":0.778,"y":0.204,"t":"particles"},
{"p":"d","x":1.678,"y":0.02516,"t":"Newly formed"},{"p":"d","x":1.678,"y":0.02386,"t":"authigenic"},{"p":"d","x":1.678,"y":0.02258,"t":"magnetite"},{"p":"d","x":1.678,"y":0.02122,"t":"(SP + SD)"},
{"p":"f","x":1.5,"y":8997,"t":"Pyritization"},{"p":"f","x":1.407,"y":1908,"t":"Sulfidization"},
{"p":"g","x":0.01883,"y":15388,"t":"Microbial iron"},{"p":"g","x":0.01883,"y":14339,"t":"reduction"},{"p":"g","x":0.019,"y":11519,"t":"Magnetite"},{"p":"g","x":0.019,"y":10536,"t":"authigenesis"},
{"p":"h","x":1.455,"y":0.675,"t":"SD"},{"p":"h","x":21.6,"y":0.409,"t":"SP saturation envelope"},{"p":"h","x":13.6,"y":0.185,"t":"SP-SD"},{"p":"h","x":3.4,"y":0.146,"t":"PSD"},{"p":"h","x":21.6,"y":0.0123,"t":"MD"}
],
"curves":[
{"c":"env","i":0,"x":1.3,"y":0.5},{"c":"env","i":1,"x":2.12,"y":0.433},{"c":"env","i":2,"x":3.49,"y":0.393},{"c":"env","i":3,"x":5.21,"y":0.375},{"c":"env","i":4,"x":12.2,"y":0.358},{"c":"env","i":5,"x":33.1,"y":0.344},{"c":"env","i":6,"x":100,"y":0.334},
{"c":"s1","i":0,"x":1.3,"y":0.5},{"c":"s1","i":1,"x":2.72,"y":0.421},{"c":"s1","i":2,"x":5.75,"y":0.371},{"c":"s1","i":3,"x":11.0,"y":0.315},{"c":"s1","i":4,"x":20.1,"y":0.236},{"c":"s1","i":5,"x":36.6,"y":0.158},{"c":"s1","i":6,"x":67.7,"y":0.087},
{"c":"s2","i":0,"x":1.3,"y":0.5},{"c":"s2","i":1,"x":2.12,"y":0.397},{"c":"s2","i":2,"x":3.49,"y":0.315},{"c":"s2","i":3,"x":5.75,"y":0.25},{"c":"s2","i":4,"x":9.49,"y":0.177},{"c":"s2","i":5,"x":14.2,"y":0.125},{"c":"s2","i":6,"x":19.9,"y":0.087},
{"c":"m1","i":0,"x":1.3,"y":0.5},{"c":"m1","i":1,"x":1.65,"y":0.223},{"c":"m1","i":2,"x":2.01,"y":0.137},{"c":"m1","i":3,"x":2.72,"y":0.0745},{"c":"m1","i":4,"x":3.67,"y":0.0395},{"c":"m1","i":5,"x":5.0,"y":0.0207},{"c":"m1","i":6,"x":5.61,"y":0.0176},{"c":"m1","i":7,"x":19.1,"y":0.0051},{"c":"m1","i":8,"x":22,"y":0.0044},
{"c":"m2","i":0,"x":1.42,"y":0.409},{"c":"m2","i":1,"x":2.01,"y":0.1875},{"c":"m2","i":2,"x":3.0,"y":0.0788},{"c":"m2","i":3,"x":4.05,"y":0.0395},{"c":"m2","i":4,"x":5.0,"y":0.0207}
]
},
"concat":[
{
"width":307,"height":307,
"encoding":{"x":{"field":"x","type":"quantitative","scale":{"domain":[0.5,2]},"axis":null},"y":{"field":"y","type":"quantitative","scale":{"domain":[0,0.5]},"axis":null}},
"layer":[
{"data":{"name":"arrows"},"transform":[{"filter":"datum.p=='a'"}],"mark":{"type":"line","interpolate":"basis","stroke":"#7a7a7a","strokeWidth":3},"encoding":{"detail":{"field":"a","type":"nominal"},"order":{"field":"i","type":"quantitative"}}},
{"data":{"values":[{"x":1.842,"y":0.404}]},"mark":{"type":"point","shape":"triangle-right","angle":326,"size":130,"filled":true,"color":"#7a7a7a","opacity":1,"strokeWidth":0}},
{"data":{"values":[{"x":1.509,"y":0.146}]},"mark":{"type":"point","shape":"triangle-right","angle":330,"size":130,"filled":true,"color":"#7a7a7a","opacity":1,"strokeWidth":0}},
{"data":{"values":[{"x":1.533,"y":0.303,"t":"Ferrimagnetic iron oxide"}]},"mark":{"type":"text","angle":326},"encoding":{"text":{"field":"t"}}},
{"data":{"values":[{"x":1.354,"y":0.0848,"t":"Ferrimagnetic"},{"x":1.387,"y":0.0587,"t":"iron sulfide (Greigite)"}]},"mark":{"type":"text","angle":330},"encoding":{"text":{"field":"t"}}},
{"data":{"name":"tk"},"transform":[{"filter":"datum.p=='ax' && datum.m==1"}],"mark":{"type":"tick","orient":"vertical","size":9,"thickness":1.5,"color":"#111","opacity":1,"yOffset":-4.5},"encoding":{"y":{"field":"lo","type":"quantitative","scale":{"domain":[0,0.5]},"axis":null}}},
{"data":{"name":"tk"},"transform":[{"filter":"datum.p=='ax' && datum.m==0"}],"mark":{"type":"tick","orient":"vertical","size":5,"thickness":1.5,"color":"#111","opacity":1,"yOffset":-2.5},"encoding":{"y":{"field":"lo","type":"quantitative","scale":{"domain":[0,0.5]},"axis":null}}},
{"data":{"name":"tk"},"transform":[{"filter":"datum.p=='ax' && datum.m==1"}],"mark":{"type":"tick","orient":"vertical","size":9,"thickness":1.5,"color":"#111","opacity":1,"yOffset":4.5},"encoding":{"y":{"field":"hi","type":"quantitative","scale":{"domain":[0,0.5]},"axis":null}}},
{"data":{"name":"tk"},"transform":[{"filter":"datum.p=='ax' && datum.m==0"}],"mark":{"type":"tick","orient":"vertical","size":5,"thickness":1.5,"color":"#111","opacity":1,"yOffset":2.5},"encoding":{"y":{"field":"hi","type":"quantitative","scale":{"domain":[0,0.5]},"axis":null}}},
{"data":{"name":"tk"},"transform":[{"filter":"datum.p=='ay' && datum.m==1"}],"mark":{"type":"tick","orient":"horizontal","size":9,"thickness":1.5,"color":"#111","opacity":1,"xOffset":4.5},"encoding":{"x":{"field":"lo","type":"quantitative","scale":{"domain":[0.5,2]},"axis":null}}},
{"data":{"name":"tk"},"transform":[{"filter":"datum.p=='ay' && datum.m==0"}],"mark":{"type":"tick","orient":"horizontal","size":5,"thickness":1.5,"color":"#111","opacity":1,"xOffset":2.5},"encoding":{"x":{"field":"lo","type":"quantitative","scale":{"domain":[0.5,2]},"axis":null}}},
{"data":{"name":"tk"},"transform":[{"filter":"datum.p=='ay' && datum.m==1"}],"mark":{"type":"tick","orient":"horizontal","size":9,"thickness":1.5,"color":"#111","opacity":1,"xOffset":-4.5},"encoding":{"x":{"field":"hi","type":"quantitative","scale":{"domain":[0.5,2]},"axis":null}}},
{"data":{"name":"tk"},"transform":[{"filter":"datum.p=='ay' && datum.m==0"}],"mark":{"type":"tick","orient":"horizontal","size":5,"thickness":1.5,"color":"#111","opacity":1,"xOffset":-2.5},"encoding":{"x":{"field":"hi","type":"quantitative","scale":{"domain":[0.5,2]},"axis":null}}},
{"data":{"name":"pts"},"transform":[{"filter":"datum.p=='a' && datum.z=='Zone-II'"}],"mark":{"type":"point","size":140,"opacity":1,"strokeWidth":1.9},"encoding":{"shape":{"field":"z","type":"nominal","title":null,"scale":{"domain":["Zone-I","Zone-II","Zone-III"],"range":["circle","diamond","triangle-up"]}},"fill":{"field":"z","type":"nominal","title":null,"scale":{"domain":["Zone-I","Zone-II","Zone-III"],"range":["#e8262c","transparent","#2f9a4d"]}},"stroke":{"field":"z","type":"nominal","title":null,"scale":{"domain":["Zone-I","Zone-II","Zone-III"],"range":["#4a1010","#2d8bdc","#123d1e"]}}}},
{"data":{"name":"pts"},"transform":[{"filter":"datum.p=='a' && datum.z!='Zone-II'"}],"mark":{"type":"point","size":150,"opacity":1,"strokeWidth":1},"encoding":{
"x":{"field":"x","type":"quantitative","scale":{"domain":[0.5,2]},"axis":{"orient":"bottom","values":[0.5,0.75,1,1.25,1.5,1.75,2],"format":".3~g","title":"χlf (10⁻⁶m³kg⁻¹)"}},
"y":{"field":"y","type":"quantitative","scale":{"domain":[0,0.5]},"axis":{"orient":"left","values":[0,0.1,0.2,0.3,0.4,0.5],"format":".3~g","title":"SIRM (10⁻⁵Am²kg⁻¹)"}},
"shape":{"field":"z","type":"nominal","title":null,"scale":{"domain":["Zone-I","Zone-II","Zone-III"],"range":["circle","diamond","triangle-up"]}},"fill":{"field":"z","type":"nominal","title":null,"scale":{"domain":["Zone-I","Zone-II","Zone-III"],"range":["#e8262c","transparent","#2f9a4d"]}},"stroke":{"field":"z","type":"nominal","title":null,"scale":{"domain":["Zone-I","Zone-II","Zone-III"],"range":["#4a1010","#2d8bdc","#123d1e"]}}}},
{"data":{"values":[{"x":0.653,"y":0.461,"t":"(a)"}]},"mark":{"type":"text","fontSize":23},"encoding":{"text":{"field":"t"}}}
],
"resolve":{"axis":{"x":"independent","y":"independent"}}
},
{
"width":307,"height":307,
"encoding":{"x":{"field":"x","type":"quantitative","scale":{"domain":[0.5,2]},"axis":null},"y":{"field":"y","type":"quantitative","scale":{"domain":[0,0.006]},"axis":null}},
"layer":[
{"data":{"name":"blobs"},"transform":[{"filter":"datum.b=='b1'"}],"mark":{"type":"line","interpolate":"cardinal-closed","fill":"#f7f5c6","stroke":"#707070","strokeWidth":1.5,"strokeDash":[5,3],"blend":"multiply"},"encoding":{"detail":{"field":"b","type":"nominal"},"order":{"field":"i","type":"quantitative"}}},
{"data":{"values":[{"x":1.633,"y":0.00364,"t":"SP + SD"},{"x":1.714,"y":0.00344,"t":"magnetite"}]},"mark":{"type":"text","angle":313},"encoding":{"text":{"field":"t"}}},
{"data":{"name":"tk"},"transform":[{"filter":"datum.p=='bx' && datum.m==1"}],"mark":{"type":"tick","orient":"vertical","size":9,"thickness":1.5,"color":"#111","opacity":1,"yOffset":-4.5},"encoding":{"y":{"field":"lo","type":"quantitative","scale":{"domain":[0,0.006]},"axis":null}}},
{"data":{"name":"tk"},"transform":[{"filter":"datum.p=='bx' && datum.m==0"}],"mark":{"type":"tick","orient":"vertical","size":5,"thickness":1.5,"color":"#111","opacity":1,"yOffset":-2.5},"encoding":{"y":{"field":"lo","type":"quantitative","scale":{"domain":[0,0.006]},"axis":null}}},
{"data":{"name":"tk"},"transform":[{"filter":"datum.p=='bx' && datum.m==1"}],"mark":{"type":"tick","orient":"vertical","size":9,"thickness":1.5,"color":"#111","opacity":1,"yOffset":4.5},"encoding":{"y":{"field":"hi","type":"quantitative","scale":{"domain":[0,0.006]},"axis":null}}},
{"data":{"name":"tk"},"transform":[{"filter":"datum.p=='bx' && datum.m==0"}],"mark":{"type":"tick","orient":"vertical","size":5,"thickness":1.5,"color":"#111","opacity":1,"yOffset":2.5},"encoding":{"y":{"field":"hi","type":"quantitative","scale":{"domain":[0,0.006]},"axis":null}}},
{"data":{"name":"tk"},"transform":[{"filter":"datum.p=='by' && datum.m==1"}],"mark":{"type":"tick","orient":"horizontal","size":9,"thickness":1.5,"color":"#111","opacity":1,"xOffset":4.5},"encoding":{"x":{"field":"lo","type":"quantitative","scale":{"domain":[0.5,2]},"axis":null}}},
{"data":{"name":"tk"},"transform":[{"filter":"datum.p=='by' && datum.m==0"}],"mark":{"type":"tick","orient":"horizontal","size":5,"thickness":1.5,"color":"#111","opacity":1,"xOffset":2.5},"encoding":{"x":{"field":"lo","type":"quantitative","scale":{"domain":[0.5,2]},"axis":null}}},
{"data":{"name":"tk"},"transform":[{"filter":"datum.p=='by' && datum.m==1"}],"mark":{"type":"tick","orient":"horizontal","size":9,"thickness":1.5,"color":"#111","opacity":1,"xOffset":-4.5},"encoding":{"x":{"field":"hi","type":"quantitative","scale":{"domain":[0.5,2]},"axis":null}}},
{"data":{"name":"tk"},"transform":[{"filter":"datum.p=='by' && datum.m==0"}],"mark":{"type":"tick","orient":"horizontal","size":5,"thickness":1.5,"color":"#111","opacity":1,"xOffset":-2.5},"encoding":{"x":{"field":"hi","type":"quantitative","scale":{"domain":[0.5,2]},"axis":null}}},
{"data":{"name":"pts"},"transform":[{"filter":"datum.p=='b' && datum.z=='Zone-II'"}],"mark":{"type":"point","size":140,"opacity":1,"strokeWidth":1.9},"encoding":{"shape":{"field":"z","type":"nominal","title":null,"scale":{"domain":["Zone-I","Zone-II","Zone-III"],"range":["circle","diamond","triangle-up"]}},"fill":{"field":"z","type":"nominal","title":null,"scale":{"domain":["Zone-I","Zone-II","Zone-III"],"range":["#e8262c","transparent","#2f9a4d"]}},"stroke":{"field":"z","type":"nominal","title":null,"scale":{"domain":["Zone-I","Zone-II","Zone-III"],"range":["#4a1010","#2d8bdc","#123d1e"]}}}},
{"data":{"name":"pts"},"transform":[{"filter":"datum.p=='b' && datum.z!='Zone-II'"}],"mark":{"type":"point","size":150,"opacity":1,"strokeWidth":1},"encoding":{
"x":{"field":"x","type":"quantitative","scale":{"domain":[0.5,2]},"axis":{"orient":"bottom","values":[0.5,0.75,1,1.25,1.5,1.75,2],"format":".3~g","title":"χlf (10⁻⁶m³kg⁻¹)"}},
"y":{"field":"y","type":"quantitative","scale":{"domain":[0,0.006]},"axis":{"orient":"left","values":[0,0.001,0.002,0.003,0.004,0.005,0.006],"format":".3~g","title":"ARM (10⁻⁵Am²kg⁻¹)"}},
"shape":{"field":"z","type":"nominal","title":null,"scale":{"domain":["Zone-I","Zone-II","Zone-III"],"range":["circle","diamond","triangle-up"]}},"fill":{"field":"z","type":"nominal","title":null,"scale":{"domain":["Zone-I","Zone-II","Zone-III"],"range":["#e8262c","transparent","#2f9a4d"]}},"stroke":{"field":"z","type":"nominal","title":null,"scale":{"domain":["Zone-I","Zone-II","Zone-III"],"range":["#4a1010","#2d8bdc","#123d1e"]}}}},
{"data":{"values":[{"x":0.629,"y":0.00552,"t":"(b)"}]},"mark":{"type":"text","fontSize":23},"encoding":{"text":{"field":"t"}}}
],
"resolve":{"axis":{"x":"independent","y":"independent"}}
},
{
"width":307,"height":307,
"encoding":{"x":{"field":"x","type":"quantitative","scale":{"domain":[0.5,2]},"axis":null},"y":{"field":"y","type":"quantitative","scale":{"domain":[0.05,0.3]},"axis":null}},
"layer":[
{"data":{"name":"blobs"},"transform":[{"filter":"datum.b=='c1'"}],"mark":{"type":"line","interpolate":"cardinal-closed","fill":"#f7f5c6","stroke":"#707070","strokeWidth":1.5,"strokeDash":[5,3],"blend":"multiply"},"encoding":{"detail":{"field":"b","type":"nominal"},"order":{"field":"i","type":"quantitative"}}},
{"data":{"name":"blobs"},"transform":[{"filter":"datum.b=='c2' || datum.b=='c3'"}],"mark":{"type":"line","interpolate":"cardinal-closed","fill":"#f8d5c0","stroke":"#707070","strokeWidth":1.5,"strokeDash":[5,3],"blend":"multiply"},"encoding":{"detail":{"field":"b","type":"nominal"},"order":{"field":"i","type":"quantitative"}}},
{"data":{"name":"arrows"},"transform":[{"filter":"datum.p=='c'"}],"mark":{"type":"line","interpolate":"basis","stroke":"#7a7a7a","strokeWidth":2.5},"encoding":{"detail":{"field":"a","type":"nominal"},"order":{"field":"i","type":"quantitative"}}},
{"data":{"values":[{"x":1.317,"y":0.1255,"i":0},{"x":1.587,"y":0.1255,"i":1},{"x":1.587,"y":0.1636,"i":2}]},"mark":{"type":"line","stroke":"#7a7a7a","strokeWidth":2.5},"encoding":{"order":{"field":"i","type":"quantitative"}}},
{"data":{"values":[{"x":1.162,"y":0.2451}]},"mark":{"type":"point","shape":"triangle-right","angle":320,"size":120,"filled":true,"color":"#7a7a7a","opacity":1,"strokeWidth":0}},
{"data":{"values":[{"x":1.317,"y":0.1255}]},"mark":{"type":"point","shape":"triangle-right","angle":180,"size":120,"filled":true,"color":"#7a7a7a","opacity":1,"strokeWidth":0}},
{"data":{"values":[{"x":1.587,"y":0.1636}]},"mark":{"type":"point","shape":"triangle-right","angle":270,"size":120,"filled":true,"color":"#7a7a7a","opacity":1,"strokeWidth":0}},
{"data":{"name":"notes"},"transform":[{"filter":"datum.p=='c'"}],"mark":{"type":"text"},"encoding":{"text":{"field":"t"}}},
{"data":{"values":[{"x":1.668,"y":0.1133,"t":"Altered Fe-S"}]},"mark":{"type":"text","angle":320},"encoding":{"text":{"field":"t"}}},
{"data":{"values":[{"x":0.227,"y":0.0454,"i":0},{"x":0.227,"y":0.3,"i":1}]},"mark":{"type":"line","stroke":"#000","strokeWidth":2.5},"encoding":{"order":{"field":"i","type":"quantitative"}}},
{"data":{"values":[{"x":0.227,"y":0.302}]},"mark":{"type":"point","shape":"triangle-right","angle":270,"size":160,"filled":true,"color":"#000","opacity":1,"strokeWidth":0}},
{"data":{"values":[{"x":0.157,"y":0.1799,"t":"Authigenic greigite"}]},"mark":{"type":"text","angle":270,"fontSize":19},"encoding":{"text":{"field":"t"}}},
{"data":{"name":"tk"},"transform":[{"filter":"datum.p=='cx' && datum.m==1"}],"mark":{"type":"tick","orient":"vertical","size":9,"thickness":1.5,"color":"#111","opacity":1,"yOffset":-4.5},"encoding":{"y":{"field":"lo","type":"quantitative","scale":{"domain":[0.05,0.3]},"axis":null}}},
{"data":{"name":"tk"},"transform":[{"filter":"datum.p=='cx' && datum.m==0"}],"mark":{"type":"tick","orient":"vertical","size":5,"thickness":1.5,"color":"#111","opacity":1,"yOffset":-2.5},"encoding":{"y":{"field":"lo","type":"quantitative","scale":{"domain":[0.05,0.3]},"axis":null}}},
{"data":{"name":"tk"},"transform":[{"filter":"datum.p=='cx' && datum.m==1"}],"mark":{"type":"tick","orient":"vertical","size":9,"thickness":1.5,"color":"#111","opacity":1,"yOffset":4.5},"encoding":{"y":{"field":"hi","type":"quantitative","scale":{"domain":[0.05,0.3]},"axis":null}}},
{"data":{"name":"tk"},"transform":[{"filter":"datum.p=='cx' && datum.m==0"}],"mark":{"type":"tick","orient":"vertical","size":5,"thickness":1.5,"color":"#111","opacity":1,"yOffset":2.5},"encoding":{"y":{"field":"hi","type":"quantitative","scale":{"domain":[0.05,0.3]},"axis":null}}},
{"data":{"name":"tk"},"transform":[{"filter":"datum.p=='cy' && datum.m==1"}],"mark":{"type":"tick","orient":"horizontal","size":9,"thickness":1.5,"color":"#111","opacity":1,"xOffset":4.5},"encoding":{"x":{"field":"lo","type":"quantitative","scale":{"domain":[0.5,2]},"axis":null}}},
{"data":{"name":"tk"},"transform":[{"filter":"datum.p=='cy' && datum.m==0"}],"mark":{"type":"tick","orient":"horizontal","size":5,"thickness":1.5,"color":"#111","opacity":1,"xOffset":2.5},"encoding":{"x":{"field":"lo","type":"quantitative","scale":{"domain":[0.5,2]},"axis":null}}},
{"data":{"name":"tk"},"transform":[{"filter":"datum.p=='cy' && datum.m==1"}],"mark":{"type":"tick","orient":"horizontal","size":9,"thickness":1.5,"color":"#111","opacity":1,"xOffset":-4.5},"encoding":{"x":{"field":"hi","type":"quantitative","scale":{"domain":[0.5,2]},"axis":null}}},
{"data":{"name":"tk"},"transform":[{"filter":"datum.p=='cy' && datum.m==0"}],"mark":{"type":"tick","orient":"horizontal","size":5,"thickness":1.5,"color":"#111","opacity":1,"xOffset":-2.5},"encoding":{"x":{"field":"hi","type":"quantitative","scale":{"domain":[0.5,2]},"axis":null}}},
{"data":{"name":"pts"},"transform":[{"filter":"datum.p=='c' && datum.z=='Zone-II'"}],"mark":{"type":"point","size":140,"opacity":1,"strokeWidth":1.9},"encoding":{"shape":{"field":"z","type":"nominal","title":null,"scale":{"domain":["Zone-I","Zone-II","Zone-III"],"range":["circle","diamond","triangle-up"]}},"fill":{"field":"z","type":"nominal","title":null,"scale":{"domain":["Zone-I","Zone-II","Zone-III"],"range":["#e8262c","transparent","#2f9a4d"]}},"stroke":{"field":"z","type":"nominal","title":null,"scale":{"domain":["Zone-I","Zone-II","Zone-III"],"range":["#4a1010","#2d8bdc","#123d1e"]}}}},
{"data":{"name":"pts"},"transform":[{"filter":"datum.p=='c' && datum.z!='Zone-II'"}],"mark":{"type":"point","size":150,"opacity":1,"strokeWidth":1},"encoding":{
"x":{"field":"x","type":"quantitative","scale":{"domain":[0.5,2]},"axis":{"orient":"bottom","values":[0.5,0.75,1,1.25,1.5,1.75,2],"format":".3~g","title":"χlf (10⁻⁶m³kg⁻¹)"}},
"y":{"field":"y","type":"quantitative","scale":{"domain":[0.05,0.3]},"axis":{"orient":"left","values":[0.05,0.1,0.15,0.2,0.25,0.3],"format":".3~g","title":"SIRM/χlf"}},
"shape":{"field":"z","type":"nominal","title":null,"scale":{"domain":["Zone-I","Zone-II","Zone-III"],"range":["circle","diamond","triangle-up"]}},"fill":{"field":"z","type":"nominal","title":null,"scale":{"domain":["Zone-I","Zone-II","Zone-III"],"range":["#e8262c","transparent","#2f9a4d"]}},"stroke":{"field":"z","type":"nominal","title":null,"scale":{"domain":["Zone-I","Zone-II","Zone-III"],"range":["#4a1010","#2d8bdc","#123d1e"]}}}},
{"data":{"values":[{"x":0.647,"y":0.279,"t":"(c)"}]},"mark":{"type":"text","fontSize":23},"encoding":{"text":{"field":"t"}}}
],
"resolve":{"axis":{"x":"independent","y":"independent"}}
},
{
"width":307,"height":307,
"encoding":{"x":{"field":"x","type":"quantitative","scale":{"domain":[0.5,2]},"axis":null},"y":{"field":"y","type":"quantitative","scale":{"domain":[0.005,0.03]},"axis":null}},
"layer":[
{"data":{"name":"blobs"},"transform":[{"filter":"datum.b=='d1'"}],"mark":{"type":"line","interpolate":"cardinal-closed","fill":"#f7f5c6","stroke":"#707070","strokeWidth":1.5,"strokeDash":[5,3],"blend":"multiply"},"encoding":{"detail":{"field":"b","type":"nominal"},"order":{"field":"i","type":"quantitative"}}},
{"data":{"name":"blobs"},"transform":[{"filter":"datum.b=='d2'"}],"mark":{"type":"line","interpolate":"cardinal-closed","fill":"#f8d5c0","stroke":"#707070","strokeWidth":1.5,"strokeDash":[5,3],"blend":"multiply"},"encoding":{"detail":{"field":"b","type":"nominal"},"order":{"field":"i","type":"quantitative"}}},
{"data":{"values":[{"x":0.5,"x2":2,"y":0.013,"y2":0.013}]},"mark":{"type":"rule","stroke":"#777","strokeWidth":1.3,"strokeDash":[5,3]},"encoding":{"x2":{"field":"x2"},"y2":{"field":"y2"}}},
{"data":{"name":"arrows"},"transform":[{"filter":"datum.p=='d'"}],"mark":{"type":"line","interpolate":"basis","stroke":"#7a7a7a","strokeWidth":2.5},"encoding":{"detail":{"field":"a","type":"nominal"},"order":{"field":"i","type":"quantitative"}}},
{"data":{"values":[{"x":1.228,"y":0.02103}]},"mark":{"type":"point","shape":"triangle-right","angle":173,"size":120,"filled":true,"color":"#7a7a7a","opacity":1,"strokeWidth":0}},
{"data":{"values":[{"x":0.966,"y":0.00766}]},"mark":{"type":"point","shape":"triangle-right","angle":330,"size":120,"filled":true,"color":"#7a7a7a","opacity":1,"strokeWidth":0}},
{"data":{"name":"notes"},"transform":[{"filter":"datum.p=='d'"}],"mark":{"type":"text"},"encoding":{"text":{"field":"t"}}},
{"data":{"values":[{"x":0.688,"y":0.00935,"t":"Coarse grained"},{"x":0.745,"y":0.0088,"t":"detrital magnetite"}]},"mark":{"type":"text","angle":315,"fontSize":12.5},"encoding":{"text":{"field":"t"}}},
{"data":{"values":[{"x":0.189,"y":0.00473,"i":0},{"x":0.189,"y":0.0302,"i":1}]},"mark":{"type":"line","stroke":"#000","strokeWidth":2.5},"encoding":{"order":{"field":"i","type":"quantitative"}}},
{"data":{"values":[{"x":0.189,"y":0.0304}]},"mark":{"type":"point","shape":"triangle-right","angle":270,"size":160,"filled":true,"color":"#000","opacity":1,"strokeWidth":0}},
{"data":{"values":[{"x":0.116,"y":0.01736,"t":"Authigenic magnetite"}]},"mark":{"type":"text","angle":270,"fontSize":20},"encoding":{"text":{"field":"t"}}},
{"data":{"name":"tk"},"transform":[{"filter":"datum.p=='dx' && datum.m==1"}],"mark":{"type":"tick","orient":"vertical","size":9,"thickness":1.5,"color":"#111","opacity":1,"yOffset":-4.5},"encoding":{"y":{"field":"lo","type":"quantitative","scale":{"domain":[0.005,0.03]},"axis":null}}},
{"data":{"name":"tk"},"transform":[{"filter":"datum.p=='dx' && datum.m==0"}],"mark":{"type":"tick","orient":"vertical","size":5,"thickness":1.5,"color":"#111","opacity":1,"yOffset":-2.5},"encoding":{"y":{"field":"lo","type":"quantitative","scale":{"domain":[0.005,0.03]},"axis":null}}},
{"data":{"name":"tk"},"transform":[{"filter":"datum.p=='dx' && datum.m==1"}],"mark":{"type":"tick","orient":"vertical","size":9,"thickness":1.5,"color":"#111","opacity":1,"yOffset":4.5},"encoding":{"y":{"field":"hi","type":"quantitative","scale":{"domain":[0.005,0.03]},"axis":null}}},
{"data":{"name":"tk"},"transform":[{"filter":"datum.p=='dx' && datum.m==0"}],"mark":{"type":"tick","orient":"vertical","size":5,"thickness":1.5,"color":"#111","opacity":1,"yOffset":2.5},"encoding":{"y":{"field":"hi","type":"quantitative","scale":{"domain":[0.005,0.03]},"axis":null}}},
{"data":{"name":"tk"},"transform":[{"filter":"datum.p=='dy' && datum.m==1"}],"mark":{"type":"tick","orient":"horizontal","size":9,"thickness":1.5,"color":"#111","opacity":1,"xOffset":4.5},"encoding":{"x":{"field":"lo","type":"quantitative","scale":{"domain":[0.5,2]},"axis":null}}},
{"data":{"name":"tk"},"transform":[{"filter":"datum.p=='dy' && datum.m==0"}],"mark":{"type":"tick","orient":"horizontal","size":5,"thickness":1.5,"color":"#111","opacity":1,"xOffset":2.5},"encoding":{"x":{"field":"lo","type":"quantitative","scale":{"domain":[0.5,2]},"axis":null}}},
{"data":{"name":"tk"},"transform":[{"filter":"datum.p=='dy' && datum.m==1"}],"mark":{"type":"tick","orient":"horizontal","size":9,"thickness":1.5,"color":"#111","opacity":1,"xOffset":-4.5},"encoding":{"x":{"field":"hi","type":"quantitative","scale":{"domain":[0.5,2]},"axis":null}}},
{"data":{"name":"tk"},"transform":[{"filter":"datum.p=='dy' && datum.m==0"}],"mark":{"type":"tick","orient":"horizontal","size":5,"thickness":1.5,"color":"#111","opacity":1,"xOffset":-2.5},"encoding":{"x":{"field":"hi","type":"quantitative","scale":{"domain":[0.5,2]},"axis":null}}},
{"data":{"name":"pts"},"transform":[{"filter":"datum.p=='d' && datum.z=='Zone-II'"}],"mark":{"type":"point","size":140,"opacity":1,"strokeWidth":1.9},"encoding":{"shape":{"field":"z","type":"nominal","title":null,"scale":{"domain":["Zone-I","Zone-II","Zone-III"],"range":["circle","diamond","triangle-up"]}},"fill":{"field":"z","type":"nominal","title":null,"scale":{"domain":["Zone-I","Zone-II","Zone-III"],"range":["#e8262c","transparent","#2f9a4d"]}},"stroke":{"field":"z","type":"nominal","title":null,"scale":{"domain":["Zone-I","Zone-II","Zone-III"],"range":["#4a1010","#2d8bdc","#123d1e"]}}}},
{"data":{"name":"pts"},"transform":[{"filter":"datum.p=='d' && datum.z!='Zone-II'"}],"mark":{"type":"point","size":150,"opacity":1,"strokeWidth":1},"encoding":{
"x":{"field":"x","type":"quantitative","scale":{"domain":[0.5,2]},"axis":{"orient":"bottom","values":[0.5,0.75,1,1.25,1.5,1.75,2],"format":".3~g","title":"χlf (10⁻⁶m³kg⁻¹)"}},
"y":{"field":"y","type":"quantitative","scale":{"domain":[0.005,0.03]},"axis":{"orient":"left","values":[0.005,0.01,0.015,0.02,0.025,0.03],"format":".3~g","title":"ARM/SIRM"}},
"shape":{"field":"z","type":"nominal","title":null,"scale":{"domain":["Zone-I","Zone-II","Zone-III"],"range":["circle","diamond","triangle-up"]}},"fill":{"field":"z","type":"nominal","title":null,"scale":{"domain":["Zone-I","Zone-II","Zone-III"],"range":["#e8262c","transparent","#2f9a4d"]}},"stroke":{"field":"z","type":"nominal","title":null,"scale":{"domain":["Zone-I","Zone-II","Zone-III"],"range":["#4a1010","#2d8bdc","#123d1e"]}}}},
{"data":{"values":[{"x":0.631,"y":0.0281,"t":"(d)"}]},"mark":{"type":"text","fontSize":23},"encoding":{"text":{"field":"t"}}}
],
"resolve":{"axis":{"x":"independent","y":"independent"}}
},
{
"width":307,"height":307,
"encoding":{"x":{"field":"x","type":"quantitative","scale":{"domain":[0.5,2]},"axis":null},"y":{"field":"y","type":"quantitative","scale":{"domain":[0.6,1]},"axis":null}},
"layer":[
{"data":{"name":"blobs"},"transform":[{"filter":"datum.b=='e2'"}],"mark":{"type":"line","interpolate":"cardinal-closed","fill":"#f7f5c6","stroke":"#707070","strokeWidth":1.5,"strokeDash":[5,3],"blend":"multiply"},"encoding":{"detail":{"field":"b","type":"nominal"},"order":{"field":"i","type":"quantitative"}}},
{"data":{"name":"blobs"},"transform":[{"filter":"datum.b=='e1'"}],"mark":{"type":"line","interpolate":"cardinal-closed","fill":"#f8d5c0","stroke":"#707070","strokeWidth":1.5,"strokeDash":[5,3],"blend":"multiply"},"encoding":{"detail":{"field":"b","type":"nominal"},"order":{"field":"i","type":"quantitative"}}},
{"data":{"name":"tk"},"transform":[{"filter":"datum.p=='ex' && datum.m==1"}],"mark":{"type":"tick","orient":"vertical","size":9,"thickness":1.5,"color":"#111","opacity":1,"yOffset":-4.5},"encoding":{"y":{"field":"lo","type":"quantitative","scale":{"domain":[0.6,1]},"axis":null}}},
{"data":{"name":"tk"},"transform":[{"filter":"datum.p=='ex' && datum.m==0"}],"mark":{"type":"tick","orient":"vertical","size":5,"thickness":1.5,"color":"#111","opacity":1,"yOffset":-2.5},"encoding":{"y":{"field":"lo","type":"quantitative","scale":{"domain":[0.6,1]},"axis":null}}},
{"data":{"name":"tk"},"transform":[{"filter":"datum.p=='ex' && datum.m==1"}],"mark":{"type":"tick","orient":"vertical","size":9,"thickness":1.5,"color":"#111","opacity":1,"yOffset":4.5},"encoding":{"y":{"field":"hi","type":"quantitative","scale":{"domain":[0.6,1]},"axis":null}}},
{"data":{"name":"tk"},"transform":[{"filter":"datum.p=='ex' && datum.m==0"}],"mark":{"type":"tick","orient":"vertical","size":5,"thickness":1.5,"color":"#111","opacity":1,"yOffset":2.5},"encoding":{"y":{"field":"hi","type":"quantitative","scale":{"domain":[0.6,1]},"axis":null}}},
{"data":{"name":"tk"},"transform":[{"filter":"datum.p=='ey' && datum.m==1"}],"mark":{"type":"tick","orient":"horizontal","size":9,"thickness":1.5,"color":"#111","opacity":1,"xOffset":4.5},"encoding":{"x":{"field":"lo","type":"quantitative","scale":{"domain":[0.5,2]},"axis":null}}},
{"data":{"name":"tk"},"transform":[{"filter":"datum.p=='ey' && datum.m==0"}],"mark":{"type":"tick","orient":"horizontal","size":5,"thickness":1.5,"color":"#111","opacity":1,"xOffset":2.5},"encoding":{"x":{"field":"lo","type":"quantitative","scale":{"domain":[0.5,2]},"axis":null}}},
{"data":{"name":"tk"},"transform":[{"filter":"datum.p=='ey' && datum.m==1"}],"mark":{"type":"tick","orient":"horizontal","size":9,"thickness":1.5,"color":"#111","opacity":1,"xOffset":-4.5},"encoding":{"x":{"field":"hi","type":"quantitative","scale":{"domain":[0.5,2]},"axis":null}}},
{"data":{"name":"tk"},"transform":[{"filter":"datum.p=='ey' && datum.m==0"}],"mark":{"type":"tick","orient":"horizontal","size":5,"thickness":1.5,"color":"#111","opacity":1,"xOffset":-2.5},"encoding":{"x":{"field":"hi","type":"quantitative","scale":{"domain":[0.5,2]},"axis":null}}},
{"data":{"name":"pts"},"transform":[{"filter":"datum.p=='e' && datum.z=='Zone-II'"}],"mark":{"type":"point","size":140,"opacity":1,"strokeWidth":1.9},"encoding":{"shape":{"field":"z","type":"nominal","title":null,"scale":{"domain":["Zone-I","Zone-II","Zone-III"],"range":["circle","diamond","triangle-up"]}},"fill":{"field":"z","type":"nominal","title":null,"scale":{"domain":["Zone-I","Zone-II","Zone-III"],"range":["#e8262c","transparent","#2f9a4d"]}},"stroke":{"field":"z","type":"nominal","title":null,"scale":{"domain":["Zone-I","Zone-II","Zone-III"],"range":["#4a1010","#2d8bdc","#123d1e"]}}}},
{"data":{"name":"pts"},"transform":[{"filter":"datum.p=='e' && datum.z!='Zone-II'"}],"mark":{"type":"point","size":150,"opacity":1,"strokeWidth":1},"encoding":{
"x":{"field":"x","type":"quantitative","scale":{"domain":[0.5,2]},"axis":{"orient":"bottom","values":[0.5,0.75,1,1.25,1.5,1.75,2],"format":".3~g","title":"χlf (10⁻⁶m³kg⁻¹)"}},
"y":{"field":"y","type":"quantitative","scale":{"domain":[0.6,1]},"axis":{"orient":"left","values":[0.6,0.65,0.7,0.75,0.8,0.85,0.9,0.95,1],"format":".3~g","title":"S-ratio"}},
"shape":{"field":"z","type":"nominal","title":null,"scale":{"domain":["Zone-I","Zone-II","Zone-III"],"range":["circle","diamond","triangle-up"]}},"fill":{"field":"z","type":"nominal","title":null,"scale":{"domain":["Zone-I","Zone-II","Zone-III"],"range":["#e8262c","transparent","#2f9a4d"]}},"stroke":{"field":"z","type":"nominal","title":null,"scale":{"domain":["Zone-I","Zone-II","Zone-III"],"range":["#4a1010","#2d8bdc","#123d1e"]}}}},
{"data":{"values":[{"x":0.621,"y":0.9665,"t":"(e)"}]},"mark":{"type":"text","fontSize":23},"encoding":{"text":{"field":"t"}}}
],
"resolve":{"axis":{"x":"independent","y":"independent"}}
},
{
"width":307,"height":307,
"encoding":{"x":{"field":"x","type":"quantitative","scale":{"domain":[0.5,2]},"axis":null},"y":{"field":"y","type":"quantitative","scale":{"domain":[0,10000]},"axis":null}},
"layer":[
{"data":{"name":"blobs"},"transform":[{"filter":"datum.b=='f1'"}],"mark":{"type":"line","interpolate":"cardinal-closed","fill":"#f7f5c6","stroke":"#707070","strokeWidth":1.5,"strokeDash":[5,3],"blend":"multiply"},"encoding":{"detail":{"field":"b","type":"nominal"},"order":{"field":"i","type":"quantitative"}}},
{"data":{"name":"blobs"},"transform":[{"filter":"datum.b=='f2'"}],"mark":{"type":"line","interpolate":"cardinal-closed","fill":"#f8d5c0","stroke":"#707070","strokeWidth":1.5,"strokeDash":[5,3],"blend":"multiply"},"encoding":{"detail":{"field":"b","type":"nominal"},"order":{"field":"i","type":"quantitative"}}},
{"data":{"name":"blobs"},"transform":[{"filter":"datum.b=='f3'"}],"mark":{"type":"line","interpolate":"cardinal-closed","fill":"#c0e8f8","stroke":"#707070","strokeWidth":1.5,"strokeDash":[5,3],"blend":"multiply","clip":true},"encoding":{"detail":{"field":"b","type":"nominal"},"order":{"field":"i","type":"quantitative"}}},
{"data":{"name":"arrows"},"transform":[{"filter":"datum.p=='f'"}],"mark":{"type":"line","interpolate":"basis","stroke":"#7a7a7a","strokeWidth":2.5},"encoding":{"detail":{"field":"a","type":"nominal"},"order":{"field":"i","type":"quantitative"}}},
{"data":{"values":[{"x":1.219,"y":7928}]},"mark":{"type":"point","shape":"triangle-right","angle":178,"size":120,"filled":true,"color":"#7a7a7a","opacity":1,"strokeWidth":0}},
{"data":{"values":[{"x":1.832,"y":4984}]},"mark":{"type":"point","shape":"triangle-right","angle":357,"size":120,"filled":true,"color":"#7a7a7a","opacity":1,"strokeWidth":0}},
{"data":{"values":[{"x":1.121,"y":861}]},"mark":{"type":"point","shape":"triangle-right","angle":175,"size":120,"filled":true,"color":"#7a7a7a","opacity":1,"strokeWidth":0}},
{"data":{"name":"notes"},"transform":[{"filter":"datum.p=='f'"}],"mark":{"type":"text"},"encoding":{"text":{"field":"t"}}},
{"data":{"values":[{"x":1.436,"y":4057,"t":"Authigenic greigite"}]},"mark":{"type":"text","angle":339},"encoding":{"text":{"field":"t"}}},
{"data":{"name":"tk"},"transform":[{"filter":"datum.p=='fx' && datum.m==1"}],"mark":{"type":"tick","orient":"vertical","size":9,"thickness":1.5,"color":"#111","opacity":1,"yOffset":-4.5},"encoding":{"y":{"field":"lo","type":"quantitative","scale":{"domain":[0,10000]},"axis":null}}},
{"data":{"name":"tk"},"transform":[{"filter":"datum.p=='fx' && datum.m==0"}],"mark":{"type":"tick","orient":"vertical","size":5,"thickness":1.5,"color":"#111","opacity":1,"yOffset":-2.5},"encoding":{"y":{"field":"lo","type":"quantitative","scale":{"domain":[0,10000]},"axis":null}}},
{"data":{"name":"tk"},"transform":[{"filter":"datum.p=='fx' && datum.m==1"}],"mark":{"type":"tick","orient":"vertical","size":9,"thickness":1.5,"color":"#111","opacity":1,"yOffset":4.5},"encoding":{"y":{"field":"hi","type":"quantitative","scale":{"domain":[0,10000]},"axis":null}}},
{"data":{"name":"tk"},"transform":[{"filter":"datum.p=='fx' && datum.m==0"}],"mark":{"type":"tick","orient":"vertical","size":5,"thickness":1.5,"color":"#111","opacity":1,"yOffset":2.5},"encoding":{"y":{"field":"hi","type":"quantitative","scale":{"domain":[0,10000]},"axis":null}}},
{"data":{"name":"tk"},"transform":[{"filter":"datum.p=='fy' && datum.m==1"}],"mark":{"type":"tick","orient":"horizontal","size":9,"thickness":1.5,"color":"#111","opacity":1,"xOffset":4.5},"encoding":{"x":{"field":"lo","type":"quantitative","scale":{"domain":[0.5,2]},"axis":null}}},
{"data":{"name":"tk"},"transform":[{"filter":"datum.p=='fy' && datum.m==0"}],"mark":{"type":"tick","orient":"horizontal","size":5,"thickness":1.5,"color":"#111","opacity":1,"xOffset":2.5},"encoding":{"x":{"field":"lo","type":"quantitative","scale":{"domain":[0.5,2]},"axis":null}}},
{"data":{"name":"tk"},"transform":[{"filter":"datum.p=='fy' && datum.m==1"}],"mark":{"type":"tick","orient":"horizontal","size":9,"thickness":1.5,"color":"#111","opacity":1,"xOffset":-4.5},"encoding":{"x":{"field":"hi","type":"quantitative","scale":{"domain":[0.5,2]},"axis":null}}},
{"data":{"name":"tk"},"transform":[{"filter":"datum.p=='fy' && datum.m==0"}],"mark":{"type":"tick","orient":"horizontal","size":5,"thickness":1.5,"color":"#111","opacity":1,"xOffset":-2.5},"encoding":{"x":{"field":"hi","type":"quantitative","scale":{"domain":[0.5,2]},"axis":null}}},
{"data":{"name":"pts"},"transform":[{"filter":"datum.p=='f' && datum.z=='Zone-II'"}],"mark":{"type":"point","size":140,"opacity":1,"strokeWidth":1.9},"encoding":{"shape":{"field":"z","type":"nominal","title":null,"scale":{"domain":["Zone-I","Zone-II","Zone-III"],"range":["circle","diamond","triangle-up"]}},"fill":{"field":"z","type":"nominal","title":null,"scale":{"domain":["Zone-I","Zone-II","Zone-III"],"range":["#e8262c","transparent","#2f9a4d"]}},"stroke":{"field":"z","type":"nominal","title":null,"scale":{"domain":["Zone-I","Zone-II","Zone-III"],"range":["#4a1010","#2d8bdc","#123d1e"]}}}},
{"data":{"name":"pts"},"transform":[{"filter":"datum.p=='f' && datum.z!='Zone-II'"}],"mark":{"type":"point","size":150,"opacity":1,"strokeWidth":1},"encoding":{
"x":{"field":"x","type":"quantitative","scale":{"domain":[0.5,2]},"axis":{"orient":"bottom","values":[0.5,0.75,1,1.25,1.5,1.75,2],"format":".3~g","title":"χlf (10⁻⁶m³kg⁻¹)"}},
"y":{"field":"y","type":"quantitative","scale":{"domain":[0,10000]},"axis":{"orient":"left","values":[0,1000,2000,3000,4000,5000,6000,7000,8000,9000,10000],"format":"d","title":"H₂S (μM)"}},
"shape":{"field":"z","type":"nominal","title":null,"scale":{"domain":["Zone-I","Zone-II","Zone-III"],"range":["circle","diamond","triangle-up"]}},"fill":{"field":"z","type":"nominal","title":null,"scale":{"domain":["Zone-I","Zone-II","Zone-III"],"range":["#e8262c","transparent","#2f9a4d"]}},"stroke":{"field":"z","type":"nominal","title":null,"scale":{"domain":["Zone-I","Zone-II","Zone-III"],"range":["#4a1010","#2d8bdc","#123d1e"]}}}},
{"data":{"values":[{"x":0.639,"y":9313,"t":"(f)"}]},"mark":{"type":"text","fontSize":23},"encoding":{"text":{"field":"t"}}}
],
"resolve":{"axis":{"x":"independent","y":"independent"}}
},
{
"width":307,"height":307,
"encoding":{"x":{"field":"x","type":"quantitative","scale":{"domain":[0.006,0.022]},"axis":null},"y":{"field":"y","type":"quantitative","scale":{"domain":[0,20000]},"axis":null}},
"layer":[
{"data":{"name":"blobs"},"transform":[{"filter":"datum.b=='g1'"}],"mark":{"type":"line","interpolate":"cardinal-closed","fill":"#f7f5c6","stroke":"#707070","strokeWidth":1.5,"strokeDash":[5,3],"blend":"multiply"},"encoding":{"detail":{"field":"b","type":"nominal"},"order":{"field":"i","type":"quantitative"}}},
{"data":{"values":[{"x":0.01757,"x2":0.02005,"y":17902,"y2":19279},{"x":0.01635,"x2":0.02139,"y":13967,"y2":15956}]},"mark":{"type":"rect","fill":"#e3e3e3","stroke":"#777","strokeWidth":1.2,"strokeDash":[4,3]},"encoding":{"x2":{"field":"x2"},"y2":{"field":"y2"}}},
{"data":{"name":"arrows"},"transform":[{"filter":"datum.p=='g'"}],"mark":{"type":"line","interpolate":"basis","stroke":"#7a7a7a","strokeWidth":2.5},"encoding":{"detail":{"field":"a","type":"nominal"},"order":{"field":"i","type":"quantitative"}}},
{"data":{"values":[{"x":0.01888,"y":16109},{"x":0.01888,"y":12284}]},"mark":{"type":"point","shape":"triangle-right","angle":90,"size":120,"filled":true,"color":"#7a7a7a","opacity":1,"strokeWidth":0}},
{"data":{"values":[{"x":0.01804,"y":7585}]},"mark":{"type":"point","shape":"triangle-right","angle":146,"size":120,"filled":true,"color":"#7a7a7a","opacity":1,"strokeWidth":0}},
{"data":{"name":"notes"},"transform":[{"filter":"datum.p=='g'"}],"mark":{"type":"text"},"encoding":{"text":{"field":"t"}}},
{"data":{"values":[{"x":0.01883,"y":18623,"t":"Fe²⁺"}]},"mark":{"type":"text","fontSize":11},"encoding":{"text":{"field":"t"}}},
{"data":{"values":[{"x":0.006,"y":-2863,"i":0},{"x":0.0205,"y":-2863,"i":1}]},"mark":{"type":"line","stroke":"#000","strokeWidth":2.5},"encoding":{"order":{"field":"i","type":"quantitative"}}},
{"data":{"values":[{"x":0.02065,"y":-2863}]},"mark":{"type":"point","shape":"triangle-right","angle":0,"size":160,"filled":true,"color":"#000","opacity":1,"strokeWidth":0}},
{"data":{"values":[{"x":0.0211,"y":-2863,"t":"Fine"}]},"mark":{"type":"text","fontSize":20,"align":"left"},"encoding":{"text":{"field":"t"}}},
{"data":{"values":[{"x":0.01411,"y":-3781,"t":"Authigenic magnetite"}]},"mark":{"type":"text","fontSize":20},"encoding":{"text":{"field":"t"}}},
{"data":{"name":"tk"},"transform":[{"filter":"datum.p=='gx' && datum.m==1"}],"mark":{"type":"tick","orient":"vertical","size":9,"thickness":1.5,"color":"#111","opacity":1,"yOffset":-4.5},"encoding":{"y":{"field":"lo","type":"quantitative","scale":{"domain":[0,20000]},"axis":null}}},
{"data":{"name":"tk"},"transform":[{"filter":"datum.p=='gx' && datum.m==0"}],"mark":{"type":"tick","orient":"vertical","size":5,"thickness":1.5,"color":"#111","opacity":1,"yOffset":-2.5},"encoding":{"y":{"field":"lo","type":"quantitative","scale":{"domain":[0,20000]},"axis":null}}},
{"data":{"name":"tk"},"transform":[{"filter":"datum.p=='gx' && datum.m==1"}],"mark":{"type":"tick","orient":"vertical","size":9,"thickness":1.5,"color":"#111","opacity":1,"yOffset":4.5},"encoding":{"y":{"field":"hi","type":"quantitative","scale":{"domain":[0,20000]},"axis":null}}},
{"data":{"name":"tk"},"transform":[{"filter":"datum.p=='gx' && datum.m==0"}],"mark":{"type":"tick","orient":"vertical","size":5,"thickness":1.5,"color":"#111","opacity":1,"yOffset":2.5},"encoding":{"y":{"field":"hi","type":"quantitative","scale":{"domain":[0,20000]},"axis":null}}},
{"data":{"name":"tk"},"transform":[{"filter":"datum.p=='gy' && datum.m==1"}],"mark":{"type":"tick","orient":"horizontal","size":9,"thickness":1.5,"color":"#111","opacity":1,"xOffset":4.5},"encoding":{"x":{"field":"lo","type":"quantitative","scale":{"domain":[0.006,0.022]},"axis":null}}},
{"data":{"name":"tk"},"transform":[{"filter":"datum.p=='gy' && datum.m==0"}],"mark":{"type":"tick","orient":"horizontal","size":5,"thickness":1.5,"color":"#111","opacity":1,"xOffset":2.5},"encoding":{"x":{"field":"lo","type":"quantitative","scale":{"domain":[0.006,0.022]},"axis":null}}},
{"data":{"name":"tk"},"transform":[{"filter":"datum.p=='gy' && datum.m==1"}],"mark":{"type":"tick","orient":"horizontal","size":9,"thickness":1.5,"color":"#111","opacity":1,"xOffset":-4.5},"encoding":{"x":{"field":"hi","type":"quantitative","scale":{"domain":[0.006,0.022]},"axis":null}}},
{"data":{"name":"tk"},"transform":[{"filter":"datum.p=='gy' && datum.m==0"}],"mark":{"type":"tick","orient":"horizontal","size":5,"thickness":1.5,"color":"#111","opacity":1,"xOffset":-2.5},"encoding":{"x":{"field":"hi","type":"quantitative","scale":{"domain":[0.006,0.022]},"axis":null}}},
{"data":{"name":"pts"},"transform":[{"filter":"datum.p=='g' && datum.z=='Zone-II'"}],"mark":{"type":"point","size":140,"opacity":1,"strokeWidth":1.9},"encoding":{"shape":{"field":"z","type":"nominal","title":null,"scale":{"domain":["Zone-I","Zone-II","Zone-III"],"range":["circle","diamond","triangle-up"]}},"fill":{"field":"z","type":"nominal","title":null,"scale":{"domain":["Zone-I","Zone-II","Zone-III"],"range":["#e8262c","transparent","#2f9a4d"]}},"stroke":{"field":"z","type":"nominal","title":null,"scale":{"domain":["Zone-I","Zone-II","Zone-III"],"range":["#4a1010","#2d8bdc","#123d1e"]}}}},
{"data":{"name":"pts"},"transform":[{"filter":"datum.p=='g' && datum.z!='Zone-II'"}],"mark":{"type":"point","size":150,"opacity":1,"strokeWidth":1},"encoding":{
"x":{"field":"x","type":"quantitative","scale":{"domain":[0.006,0.022]},"axis":{"orient":"bottom","values":[0.006,0.008,0.01,0.012,0.014,0.016,0.018,0.02,0.022],"format":".3~g","title":"ARM/SIRM"}},
"y":{"field":"y","type":"quantitative","scale":{"domain":[0,20000]},"axis":{"orient":"left","values":[0,2000,4000,6000,8000,10000,12000,14000,16000,18000,20000],"format":"d","title":"CH₄ (μM)"}},
"shape":{"field":"z","type":"nominal","title":null,"scale":{"domain":["Zone-I","Zone-II","Zone-III"],"range":["circle","diamond","triangle-up"]}},"fill":{"field":"z","type":"nominal","title":null,"scale":{"domain":["Zone-I","Zone-II","Zone-III"],"range":["#e8262c","transparent","#2f9a4d"]}},"stroke":{"field":"z","type":"nominal","title":null,"scale":{"domain":["Zone-I","Zone-II","Zone-III"],"range":["#4a1010","#2d8bdc","#123d1e"]}}}},
{"data":{"values":[{"x":0.00731,"y":18448,"t":"(g)"}]},"mark":{"type":"text","fontSize":23},"encoding":{"text":{"field":"t"}}}
],
"resolve":{"axis":{"x":"independent","y":"independent"}}
},
{
"width":307,"height":307,
"encoding":{"x":{"field":"x","type":"quantitative","scale":{"type":"log","domain":[1,100]},"axis":null},"y":{"field":"y","type":"quantitative","scale":{"type":"log","domain":[0.005,1]},"axis":null}},
"layer":[
{"data":{"values":[{"x":2,"x2":2,"y":0.005,"y2":1},{"x":5,"x2":5,"y":0.005,"y2":1},{"x":1,"x2":100,"y":0.5,"y2":0.5},{"x":1,"x2":100,"y":0.02,"y2":0.02}]},"mark":{"type":"rule","stroke":"#111","strokeWidth":1.3},"encoding":{"x2":{"field":"x2"},"y2":{"field":"y2"}}},
{"data":{"name":"curves"},"mark":{"type":"line","interpolate":"monotone","stroke":"#777","strokeWidth":1.3,"clip":true},"encoding":{"detail":{"field":"c","type":"nominal"},"order":{"field":"i","type":"quantitative"}}},
{"data":{"name":"notes"},"transform":[{"filter":"datum.p=='h'"}],"mark":{"type":"text"},"encoding":{"text":{"field":"t"}}},
{"data":{"name":"tk"},"transform":[{"filter":"datum.p=='hx' && datum.m==1"}],"mark":{"type":"tick","orient":"vertical","size":10,"thickness":1.5,"color":"#111","opacity":1,"yOffset":-5},"encoding":{"y":{"field":"lo","type":"quantitative","scale":{"type":"log","domain":[0.005,1]},"axis":null}}},
{"data":{"name":"tk"},"transform":[{"filter":"datum.p=='hx' && datum.m==0"}],"mark":{"type":"tick","orient":"vertical","size":5,"thickness":1.5,"color":"#111","opacity":1,"yOffset":-2.5},"encoding":{"y":{"field":"lo","type":"quantitative","scale":{"type":"log","domain":[0.005,1]},"axis":null}}},
{"data":{"name":"tk"},"transform":[{"filter":"datum.p=='hx' && datum.m==1"}],"mark":{"type":"tick","orient":"vertical","size":10,"thickness":1.5,"color":"#111","opacity":1,"yOffset":5},"encoding":{"y":{"field":"hi","type":"quantitative","scale":{"type":"log","domain":[0.005,1]},"axis":null}}},
{"data":{"name":"tk"},"transform":[{"filter":"datum.p=='hx' && datum.m==0"}],"mark":{"type":"tick","orient":"vertical","size":5,"thickness":1.5,"color":"#111","opacity":1,"yOffset":2.5},"encoding":{"y":{"field":"hi","type":"quantitative","scale":{"type":"log","domain":[0.005,1]},"axis":null}}},
{"data":{"name":"tk"},"transform":[{"filter":"datum.p=='hy' && datum.m==1"}],"mark":{"type":"tick","orient":"horizontal","size":10,"thickness":1.5,"color":"#111","opacity":1,"xOffset":5},"encoding":{"x":{"field":"lo","type":"quantitative","scale":{"type":"log","domain":[1,100]},"axis":null}}},
{"data":{"name":"tk"},"transform":[{"filter":"datum.p=='hy' && datum.m==0"}],"mark":{"type":"tick","orient":"horizontal","size":5,"thickness":1.5,"color":"#111","opacity":1,"xOffset":2.5},"encoding":{"x":{"field":"lo","type":"quantitative","scale":{"type":"log","domain":[1,100]},"axis":null}}},
{"data":{"name":"tk"},"transform":[{"filter":"datum.p=='hy' && datum.m==1"}],"mark":{"type":"tick","orient":"horizontal","size":10,"thickness":1.5,"color":"#111","opacity":1,"xOffset":-5},"encoding":{"x":{"field":"hi","type":"quantitative","scale":{"type":"log","domain":[1,100]},"axis":null}}},
{"data":{"name":"tk"},"transform":[{"filter":"datum.p=='hy' && datum.m==0"}],"mark":{"type":"tick","orient":"horizontal","size":5,"thickness":1.5,"color":"#111","opacity":1,"xOffset":-2.5},"encoding":{"x":{"field":"hi","type":"quantitative","scale":{"type":"log","domain":[1,100]},"axis":null}}},
{"data":{"name":"pts"},"transform":[{"filter":"datum.p=='h' && datum.z=='Zone-II'"}],"mark":{"type":"point","size":140,"opacity":1,"strokeWidth":1.9},"encoding":{"shape":{"field":"z","type":"nominal","title":null,"scale":{"domain":["Zone-I","Zone-II","Zone-III"],"range":["circle","diamond","triangle-up"]}},"fill":{"field":"z","type":"nominal","title":null,"scale":{"domain":["Zone-I","Zone-II","Zone-III"],"range":["#e8262c","transparent","#2f9a4d"]}},"stroke":{"field":"z","type":"nominal","title":null,"scale":{"domain":["Zone-I","Zone-II","Zone-III"],"range":["#4a1010","#2d8bdc","#123d1e"]}}}},
{"data":{"name":"pts"},"transform":[{"filter":"datum.p=='h' && datum.z!='Zone-II'"}],"mark":{"type":"point","size":150,"opacity":1,"strokeWidth":1},"encoding":{
"x":{"field":"x","type":"quantitative","scale":{"type":"log","domain":[1,100]},"axis":{"orient":"bottom","values":[1,10,100],"format":".3~g","title":"Hcr/Hc"}},
"y":{"field":"y","type":"quantitative","scale":{"type":"log","domain":[0.005,1]},"axis":{"orient":"left","values":[0.01,0.1,1],"format":".3~g","title":"Mrs/Ms"}},
"shape":{"field":"z","type":"nominal","title":null,"scale":{"domain":["Zone-I","Zone-II","Zone-III"],"range":["circle","diamond","triangle-up"]}},"fill":{"field":"z","type":"nominal","title":null,"scale":{"domain":["Zone-I","Zone-II","Zone-III"],"range":["#e8262c","transparent","#2f9a4d"]}},"stroke":{"field":"z","type":"nominal","title":null,"scale":{"domain":["Zone-I","Zone-II","Zone-III"],"range":["#4a1010","#2d8bdc","#123d1e"]}}}},
{"data":{"values":[{"x":0.698,"y":0.672,"t":"(h)"}]},"mark":{"type":"text","fontSize":23},"encoding":{"text":{"field":"t"}}}
],
"resolve":{"axis":{"x":"independent","y":"independent"}}
}
],
"columns":3,
"spacing":{"row":56,"column":87},
"bounds":"flush",
"config":{
"view":{"stroke":"#111","strokeWidth":1.6},
"font":"Liberation Serif",
"axis":{"domain":false,"grid":false,"ticks":false,"labelFont":"Liberation Serif","labelFontWeight":"bold","labelFontSize":14.5,"labelColor":"#111","titleFont":"Liberation Serif","titleFontWeight":"bold","titleFontSize":15,"titleColor":"#111","labelFlush":false,"labelOverlap":false,"labelPadding":5,"titlePadding":3},
"text":{"font":"Liberation Serif","fontWeight":"bold","fontSize":14,"color":"#1a1a1a"},
"legend":{"orient":"none","legendX":821,"legendY":789,"direction":"vertical","padding":23,"symbolOffset":19,"labelOffset":26,"rowPadding":25,"symbolSize":841,"symbolStrokeWidth":2,"labelFont":"Liberation Serif","labelFontWeight":"bold","labelFontSize":32,"labelColor":"#111","labelLimit":300,"strokeColor":"#111","strokeWidth":2,"cornerRadius":6,"fillColor":"#fff"}
}
}
